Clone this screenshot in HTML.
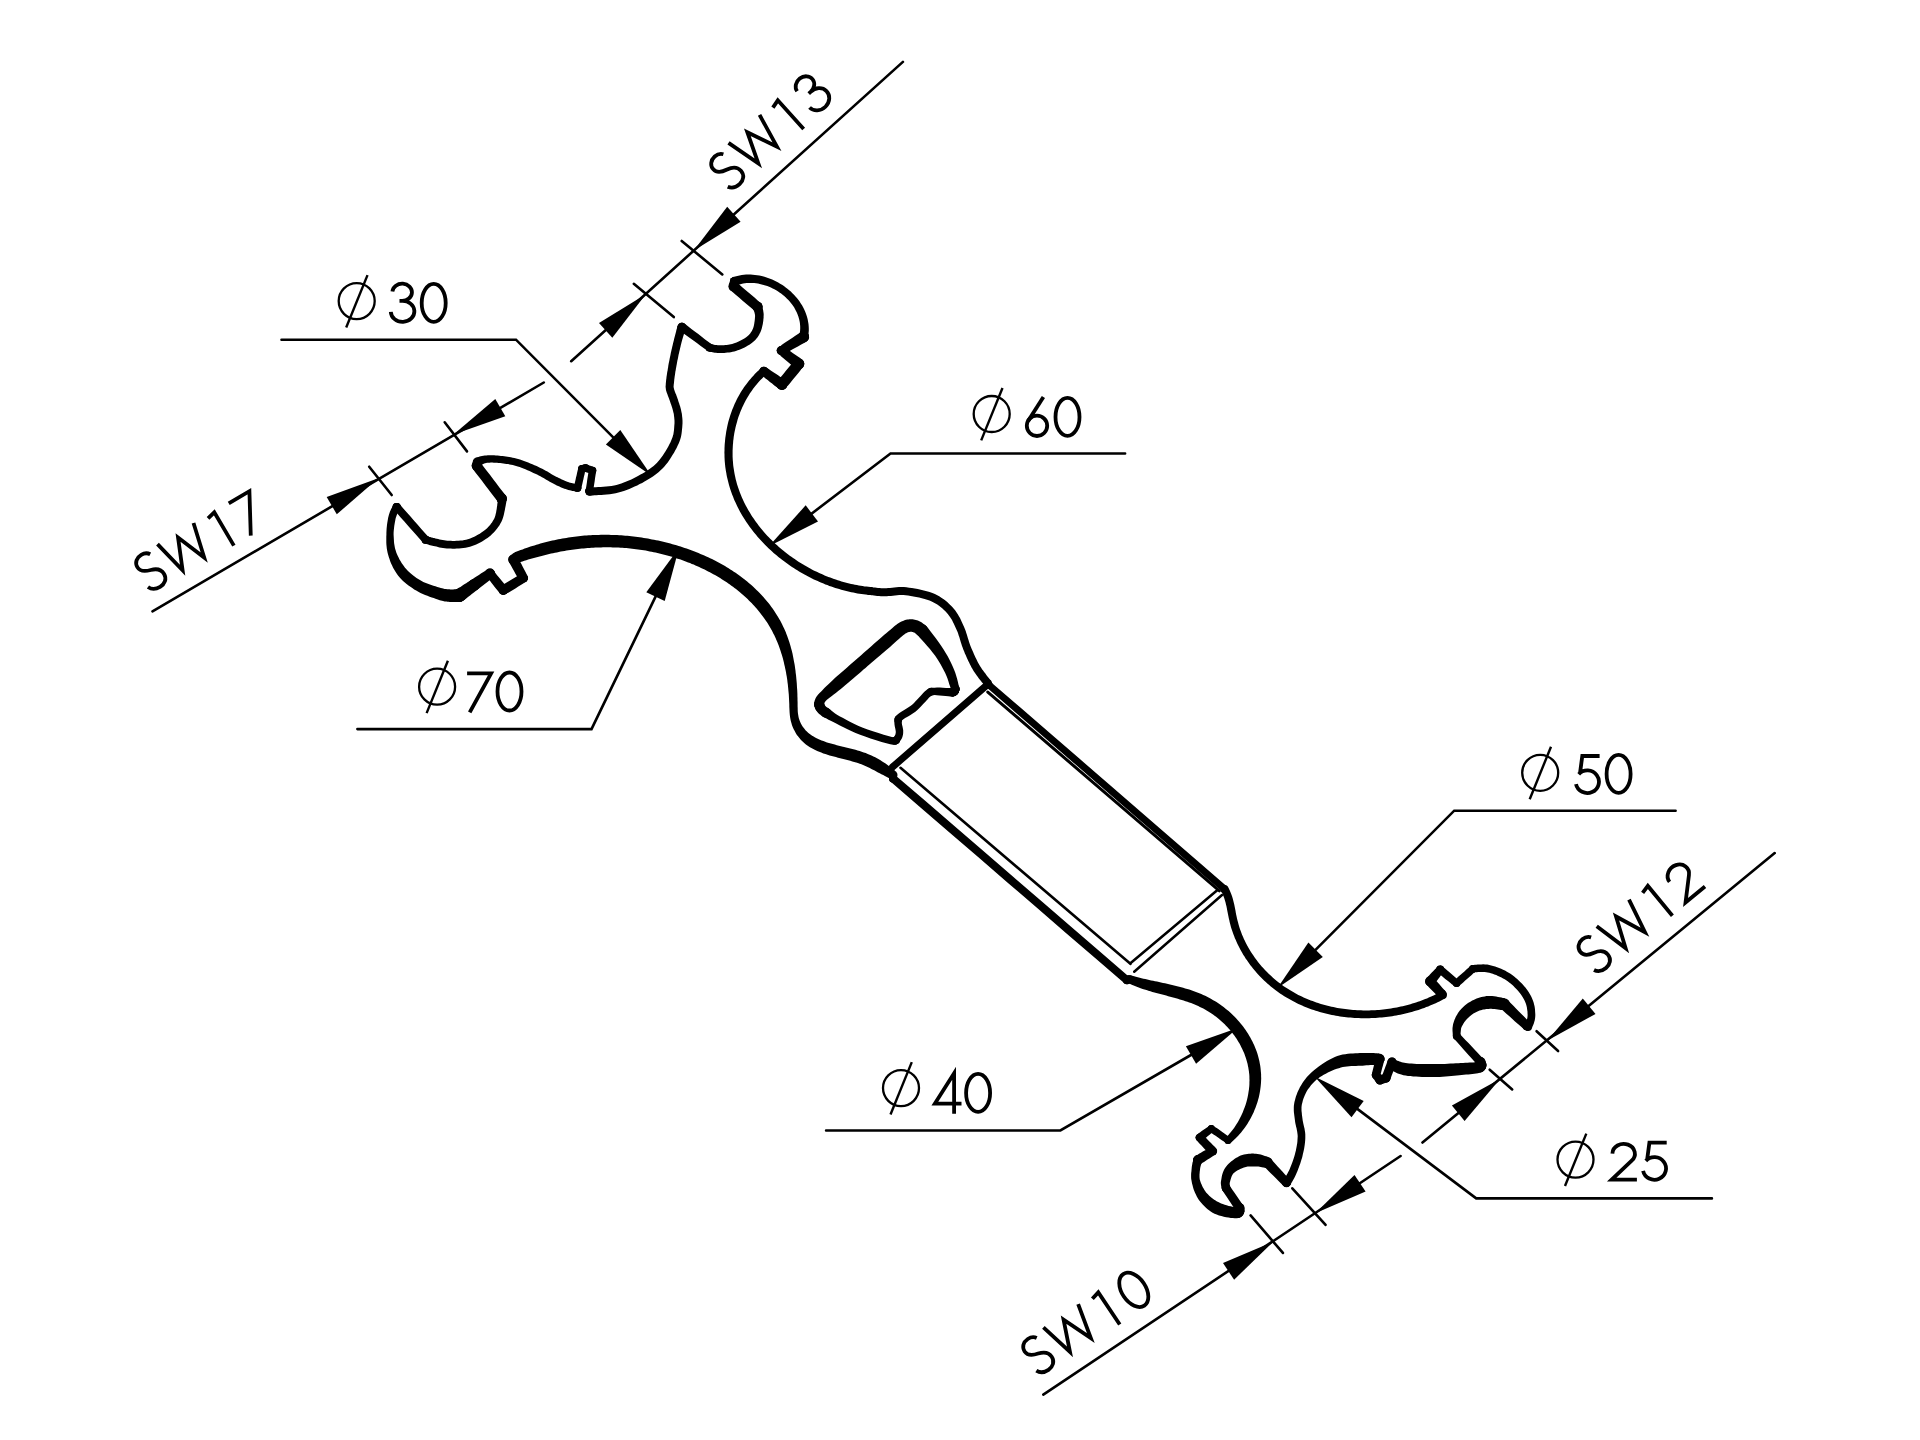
<!DOCTYPE html>
<html><head><meta charset="utf-8"><style>
html,body{margin:0;padding:0;background:#fff;width:1920px;height:1440px;overflow:hidden}
svg{display:block}
</style></head><body>
<svg width="1920" height="1440" viewBox="0 0 1920 1440" xmlns="http://www.w3.org/2000/svg">
<rect width="1920" height="1440" fill="#fff"/>
<g fill="#000" stroke="none">
<path d="M736.0 285.7 L737.8 285.0 L739.5 284.4 L741.3 284.0 L743.1 283.6 L744.9 283.3 L746.7 283.1 L748.6 283.0 L750.4 283.0 L752.3 283.0 L754.2 283.1 L756.1 283.3 L758.0 283.6 L759.8 283.9 L761.7 284.4 L763.6 284.9 L765.4 285.5 L767.3 286.1 L769.1 286.8 L770.9 287.6 L772.7 288.4 L774.4 289.3 L776.2 290.3 L777.8 291.3 L779.5 292.4 L781.1 293.6 L782.6 294.8 L784.2 296.0 L785.6 297.3 L787.0 298.7 L788.4 300.1 L789.7 301.5 L790.9 303.0 L792.1 304.5 L793.2 306.0 L794.2 307.6 L795.1 309.2 L796.0 310.9 L796.8 312.6 L797.5 314.3 L798.2 316.0 L798.7 317.7 L799.2 319.5 L799.6 321.3 L799.9 323.1 L800.1 324.9 L800.2 326.7 L800.2 328.5 L800.1 330.4 L799.9 332.2 L799.6 334.1 L799.2 336.1 L808.0 337.7 L808.4 335.5 L808.6 333.1 L808.8 330.8 L808.8 328.5 L808.7 326.2 L808.5 324.0 L808.1 321.8 L807.7 319.6 L807.2 317.4 L806.5 315.3 L805.8 313.2 L805.0 311.2 L804.1 309.2 L803.1 307.2 L802.0 305.3 L800.8 303.4 L799.6 301.6 L798.3 299.8 L796.9 298.1 L795.5 296.4 L794.0 294.8 L792.4 293.2 L790.8 291.6 L789.2 290.2 L787.4 288.7 L785.7 287.4 L783.9 286.1 L782.0 284.8 L780.1 283.7 L778.2 282.5 L776.2 281.5 L774.2 280.5 L772.2 279.6 L770.1 278.7 L768.0 278.0 L765.9 277.3 L763.7 276.6 L761.6 276.1 L759.4 275.6 L757.2 275.2 L755.0 274.9 L752.8 274.7 L750.6 274.6 L748.4 274.6 L746.1 274.6 L743.9 274.8 L741.7 275.1 L739.5 275.4 L737.3 275.9 L735.1 276.5 L733.0 277.1Z"/>
<circle cx="734.5" cy="281.4" r="4.50"/><circle cx="803.6" cy="336.9" r="4.50"/>
<circle cx="803.6" cy="336.9" r="5.50"/>
<circle cx="781.2" cy="350.6" r="4.50"/>
<circle cx="798.8" cy="363.8" r="5.50"/>
<circle cx="781.9" cy="384.4" r="5.50"/>
<circle cx="763.8" cy="371.2" r="4.50"/>
<path d="M800.7 332.2 L798.0 334.0 L795.3 335.8 L792.5 337.7 L789.8 339.5 L787.1 341.3 L784.4 343.1 L781.6 344.9 L776.8 349.8 L780.7 355.9 L782.8 357.7 L784.9 359.4 L787.0 361.2 L789.1 362.9 L791.2 364.7 L793.3 366.4 L793.3 363.9 L792.4 362.9 L790.3 365.4 L788.2 368.0 L786.1 370.6 L784.0 373.2 L781.9 375.8 L779.7 378.3 L780.7 379.0 L782.8 378.4 L780.4 376.9 L778.1 375.3 L775.8 373.8 L773.4 372.2 L771.1 370.7 L768.7 369.1 L766.4 367.6 L761.1 374.9 L763.3 376.6 L765.5 378.4 L767.7 380.1 L769.9 381.9 L772.1 383.6 L774.3 385.4 L776.5 387.1 L783.1 389.8 L788.3 385.3 L790.4 382.7 L792.5 380.1 L794.6 377.6 L796.7 375.0 L798.8 372.4 L800.9 369.8 L804.2 363.6 L799.8 357.8 L797.5 356.3 L795.3 354.7 L793.0 353.2 L790.7 351.6 L788.5 350.1 L786.2 348.5 L785.7 351.4 L786.5 352.8 L789.3 351.2 L792.2 349.6 L795.0 348.0 L797.9 346.4 L800.8 344.8 L803.6 343.2 L806.5 341.6Z"/>
<circle cx="803.6" cy="336.9" r="5.50"/><circle cx="763.8" cy="371.2" r="4.50"/><circle cx="781.2" cy="350.6" r="4.50"/><circle cx="798.8" cy="363.8" r="5.50"/><circle cx="781.9" cy="384.4" r="5.50"/>
<path d="M761.1 368.3 L759.5 369.7 L757.9 371.1 L756.3 372.6 L754.8 374.1 L753.4 375.7 L751.9 377.3 L750.5 378.9 L749.1 380.5 L747.8 382.2 L746.5 383.9 L745.3 385.6 L744.0 387.3 L742.9 389.0 L741.7 390.8 L740.6 392.6 L739.5 394.4 L738.5 396.3 L737.5 398.1 L736.5 400.0 L735.6 401.9 L734.7 403.8 L733.9 405.7 L733.1 407.7 L732.3 409.6 L731.6 411.6 L730.9 413.6 L730.2 415.6 L729.6 417.6 L729.0 419.6 L728.4 421.6 L727.9 423.6 L727.4 425.7 L727.0 427.7 L726.6 429.8 L726.2 431.8 L725.9 433.9 L725.6 435.9 L725.3 438.0 L725.1 440.1 L724.9 442.2 L724.7 444.2 L724.6 446.3 L724.5 448.4 L724.5 450.5 L724.4 452.5 L724.5 454.6 L724.5 456.7 L724.6 458.8 L724.7 460.8 L724.9 462.9 L725.1 464.9 L725.3 467.0 L725.6 469.0 L725.9 471.1 L726.3 473.1 L726.6 475.1 L727.0 477.1 L727.5 479.1 L728.0 481.1 L728.5 483.1 L729.0 485.1 L729.6 487.0 L730.2 489.0 L730.9 490.9 L731.5 492.8 L732.2 494.7 L733.0 496.6 L733.7 498.5 L734.5 500.4 L735.4 502.3 L736.2 504.1 L737.1 505.9 L738.0 507.8 L738.9 509.6 L739.9 511.4 L740.9 513.2 L741.9 514.9 L743.0 516.7 L744.1 518.4 L745.2 520.2 L746.3 521.9 L747.4 523.6 L748.6 525.3 L749.8 526.9 L751.0 528.6 L752.3 530.2 L753.6 531.9 L754.9 533.5 L756.2 535.1 L757.5 536.7 L758.9 538.2 L760.3 539.8 L761.7 541.3 L763.1 542.8 L764.5 544.3 L766.0 545.8 L767.5 547.2 L769.0 548.7 L770.5 550.1 L772.1 551.5 L773.6 552.9 L775.2 554.3 L776.8 555.6 L778.4 556.9 L780.1 558.3 L781.7 559.6 L783.4 560.8 L785.1 562.1 L786.8 563.3 L788.5 564.5 L790.2 565.7 L792.0 566.9 L793.7 568.1 L795.5 569.2 L797.3 570.3 L799.1 571.4 L800.9 572.5 L802.7 573.5 L804.5 574.6 L806.4 575.6 L808.2 576.6 L810.1 577.5 L812.0 578.5 L813.9 579.4 L815.8 580.3 L817.7 581.1 L819.6 582.0 L821.5 582.8 L823.5 583.6 L825.4 584.4 L827.4 585.1 L829.3 585.9 L831.3 586.6 L833.3 587.2 L835.3 587.9 L837.3 588.5 L839.2 589.1 L841.2 589.7 L843.3 590.3 L845.3 590.8 L847.3 591.3 L849.3 591.8 L851.3 592.2 L853.3 592.6 L855.4 593.0 L857.4 593.4 L859.4 593.7 L861.5 594.0 L863.5 594.3 L865.6 594.6 L867.6 594.8 L869.6 595.0 L870.4 587.0 L868.4 586.8 L866.5 586.6 L864.6 586.4 L862.6 586.1 L860.7 585.8 L858.8 585.5 L856.9 585.1 L854.9 584.7 L853.0 584.3 L851.1 583.9 L849.2 583.5 L847.2 583.0 L845.3 582.5 L843.4 582.0 L841.5 581.4 L839.6 580.8 L837.7 580.2 L835.8 579.6 L834.0 579.0 L832.1 578.3 L830.2 577.6 L828.4 576.9 L826.5 576.2 L824.6 575.4 L822.8 574.6 L821.0 573.8 L819.1 573.0 L817.3 572.1 L815.5 571.3 L813.7 570.4 L811.9 569.4 L810.2 568.5 L808.4 567.5 L806.7 566.6 L804.9 565.6 L803.2 564.5 L801.5 563.5 L799.8 562.4 L798.1 561.4 L796.4 560.3 L794.7 559.1 L793.1 558.0 L791.4 556.8 L789.8 555.7 L788.2 554.5 L786.6 553.3 L785.0 552.0 L783.5 550.8 L781.9 549.5 L780.4 548.2 L778.9 546.9 L777.4 545.6 L775.9 544.2 L774.5 542.9 L773.0 541.5 L771.6 540.1 L770.2 538.7 L768.8 537.3 L767.5 535.9 L766.1 534.4 L764.8 533.0 L763.5 531.5 L762.3 530.0 L761.0 528.5 L759.8 526.9 L758.6 525.4 L757.4 523.8 L756.2 522.3 L755.1 520.7 L754.0 519.1 L752.9 517.5 L751.8 515.9 L750.8 514.2 L749.8 512.6 L748.8 510.9 L747.8 509.3 L746.9 507.6 L746.0 505.9 L745.1 504.2 L744.2 502.5 L743.4 500.7 L742.6 499.0 L741.8 497.2 L741.1 495.5 L740.4 493.7 L739.7 491.9 L739.0 490.1 L738.4 488.3 L737.8 486.5 L737.2 484.7 L736.7 482.9 L736.2 481.0 L735.7 479.2 L735.3 477.3 L734.9 475.5 L734.5 473.6 L734.2 471.7 L733.9 469.8 L733.6 467.9 L733.3 466.0 L733.1 464.1 L733.0 462.2 L732.8 460.3 L732.7 458.4 L732.6 456.4 L732.6 454.5 L732.6 452.6 L732.6 450.6 L732.7 448.7 L732.8 446.7 L732.9 444.8 L733.1 442.9 L733.2 440.9 L733.5 439.0 L733.7 437.1 L734.0 435.2 L734.3 433.2 L734.7 431.3 L735.1 429.4 L735.5 427.5 L736.0 425.6 L736.5 423.7 L737.0 421.9 L737.5 420.0 L738.1 418.1 L738.7 416.3 L739.4 414.5 L740.1 412.6 L740.8 410.8 L741.6 409.0 L742.3 407.3 L743.2 405.5 L744.0 403.7 L744.9 402.0 L745.8 400.3 L746.8 398.6 L747.7 396.9 L748.8 395.2 L749.8 393.6 L750.9 392.0 L752.0 390.4 L753.1 388.8 L754.3 387.2 L755.5 385.7 L756.8 384.2 L758.0 382.7 L759.3 381.2 L760.7 379.8 L762.1 378.4 L763.5 377.0 L764.9 375.6 L766.4 374.2Z"/>
<circle cx="763.8" cy="371.2" r="4.00"/><circle cx="870.0" cy="591.0" r="4.00"/>
<path d="M869.6 595.0 L870.4 595.1 L871.4 595.2 L872.6 595.3 L874.0 595.5 L875.6 595.7 L877.2 595.9 L879.0 596.0 L880.9 596.2 L882.7 596.3 L884.7 596.3 L886.7 596.3 L888.8 596.1 L890.9 595.9 L892.9 595.7 L895.0 595.5 L897.1 595.3 L899.2 595.1 L901.4 595.1 L903.5 595.1 L905.7 595.3 L908.1 595.6 L910.7 596.0 L913.4 596.4 L916.2 596.9 L919.1 597.5 L921.9 598.2 L924.6 598.9 L927.1 599.7 L929.5 600.6 L931.7 601.5 L933.6 602.4 L935.5 603.4 L937.3 604.6 L939.0 605.8 L940.6 607.0 L942.2 608.3 L943.7 609.7 L945.1 611.1 L946.5 612.6 L947.8 614.0 L948.9 615.4 L950.0 616.9 L951.0 618.5 L952.0 620.1 L952.8 621.7 L953.7 623.5 L954.5 625.2 L955.3 627.0 L956.1 628.8 L956.9 630.5 L957.6 632.1 L958.2 633.7 L958.7 635.4 L959.3 637.1 L959.8 638.8 L960.3 640.5 L960.8 642.3 L961.4 644.1 L962.0 646.0 L962.7 647.8 L963.4 649.7 L964.2 651.5 L964.9 653.4 L965.8 655.3 L966.6 657.2 L967.4 659.1 L968.3 660.9 L969.1 662.6 L969.9 664.2 L970.7 665.7 L971.4 667.2 L972.2 668.5 L972.9 669.7 L973.6 670.9 L974.3 672.0 L975.0 673.0 L975.7 674.0 L976.4 674.9 L977.1 675.9 L977.7 676.8 L978.5 677.9 L979.3 679.0 L980.1 680.0 L981.0 681.1 L981.8 682.2 L982.6 683.1 L983.3 684.0 L983.9 684.8 L984.5 685.5 L984.9 686.0 L991.1 681.0 L990.7 680.5 L990.2 679.8 L989.5 679.0 L988.8 678.1 L988.1 677.2 L987.3 676.2 L986.5 675.2 L985.7 674.1 L985.0 673.1 L984.3 672.2 L983.6 671.2 L982.9 670.3 L982.2 669.4 L981.6 668.4 L981.0 667.5 L980.3 666.6 L979.7 665.6 L979.1 664.5 L978.4 663.3 L977.7 662.1 L977.0 660.6 L976.3 659.1 L975.5 657.5 L974.7 655.7 L973.9 654.0 L973.1 652.1 L972.3 650.3 L971.5 648.5 L970.8 646.7 L970.1 645.0 L969.5 643.3 L969.0 641.7 L968.5 640.0 L967.9 638.3 L967.4 636.5 L966.9 634.7 L966.3 632.9 L965.7 631.1 L965.0 629.2 L964.2 627.3 L963.4 625.5 L962.6 623.7 L961.8 621.9 L960.9 620.0 L960.0 618.1 L958.9 616.2 L957.8 614.3 L956.6 612.4 L955.3 610.5 L953.8 608.8 L952.3 607.1 L950.8 605.5 L949.2 603.9 L947.5 602.3 L945.7 600.8 L943.7 599.3 L941.7 597.9 L939.6 596.6 L937.3 595.3 L934.9 594.1 L932.4 593.1 L929.6 592.1 L926.8 591.2 L923.8 590.5 L920.8 589.7 L917.8 589.1 L914.8 588.5 L911.9 588.1 L909.2 587.7 L906.5 587.3 L903.9 587.1 L901.3 587.1 L898.9 587.1 L896.5 587.3 L894.2 587.5 L892.1 587.7 L890.0 588.0 L888.1 588.1 L886.4 588.3 L884.7 588.3 L883.0 588.3 L881.3 588.2 L879.7 588.1 L878.0 587.9 L876.5 587.7 L875.0 587.6 L873.6 587.4 L872.4 587.2 L871.3 587.1 L870.4 587.0Z"/>
<circle cx="870.0" cy="591.0" r="4.00"/><circle cx="988.0" cy="683.5" r="4.00"/>
<circle cx="989.0" cy="685.0" r="3.50"/>
<circle cx="1224.4" cy="888.9" r="3.50"/>
<path d="M986.7 687.6 L1016.1 713.1 L1045.6 738.6 L1075.0 764.1 L1104.4 789.6 L1133.8 815.1 L1163.3 840.6 L1192.7 866.1 L1222.1 891.5 L1226.7 886.3 L1197.3 860.8 L1167.8 835.3 L1138.4 809.8 L1109.0 784.3 L1079.6 758.8 L1050.1 733.3 L1020.7 707.8 L991.3 682.4Z"/>
<circle cx="989.0" cy="685.0" r="3.50"/><circle cx="1224.4" cy="888.9" r="3.50"/>
<path d="M1220.9 890.9 L1221.8 892.5 L1222.6 894.1 L1223.3 895.7 L1224.0 897.4 L1224.5 899.1 L1225.1 900.9 L1225.6 902.7 L1226.0 904.6 L1226.5 906.4 L1226.9 908.4 L1227.2 910.3 L1227.6 912.3 L1228.0 914.3 L1228.4 916.3 L1228.8 918.3 L1229.3 920.3 L1229.7 922.3 L1230.3 924.4 L1230.8 926.4 L1231.4 928.4 L1232.1 930.4 L1232.7 932.3 L1233.4 934.3 L1234.2 936.3 L1234.9 938.2 L1235.8 940.1 L1236.6 942.0 L1237.5 943.9 L1238.4 945.8 L1239.3 947.6 L1240.3 949.5 L1241.3 951.3 L1242.3 953.1 L1243.4 954.9 L1244.5 956.6 L1245.6 958.4 L1246.8 960.1 L1248.0 961.8 L1249.2 963.5 L1250.4 965.2 L1251.7 966.8 L1253.0 968.5 L1254.3 970.1 L1255.6 971.6 L1257.0 973.2 L1258.4 974.7 L1259.8 976.3 L1261.3 977.8 L1262.8 979.2 L1264.3 980.7 L1265.8 982.1 L1267.3 983.5 L1268.9 984.8 L1270.5 986.2 L1272.1 987.5 L1273.7 988.8 L1275.3 990.1 L1277.0 991.3 L1278.7 992.5 L1280.4 993.7 L1282.1 994.8 L1283.9 995.9 L1285.6 997.0 L1287.4 998.1 L1289.2 999.1 L1291.0 1000.1 L1292.8 1001.1 L1294.7 1002.1 L1296.5 1003.0 L1298.4 1003.9 L1300.3 1004.7 L1302.1 1005.6 L1304.0 1006.4 L1306.0 1007.2 L1307.9 1007.9 L1309.8 1008.7 L1311.8 1009.4 L1313.8 1010.0 L1315.7 1010.7 L1317.7 1011.3 L1319.7 1011.9 L1321.7 1012.5 L1323.7 1013.0 L1325.7 1013.5 L1327.8 1014.0 L1329.8 1014.5 L1331.8 1014.9 L1333.9 1015.3 L1335.9 1015.7 L1338.0 1016.0 L1340.0 1016.4 L1342.1 1016.7 L1344.2 1016.9 L1346.3 1017.2 L1348.3 1017.4 L1350.4 1017.6 L1352.5 1017.8 L1354.6 1017.9 L1356.7 1018.0 L1358.8 1018.1 L1360.9 1018.2 L1363.0 1018.2 L1365.1 1018.2 L1367.2 1018.2 L1369.3 1018.2 L1371.4 1018.1 L1373.5 1018.1 L1375.5 1017.9 L1377.6 1017.8 L1379.7 1017.6 L1381.8 1017.5 L1383.9 1017.2 L1386.0 1017.0 L1388.0 1016.8 L1390.1 1016.5 L1392.2 1016.2 L1394.2 1015.8 L1396.3 1015.5 L1398.4 1015.1 L1400.4 1014.7 L1402.4 1014.2 L1404.5 1013.8 L1406.5 1013.3 L1408.5 1012.8 L1410.5 1012.3 L1412.5 1011.7 L1414.5 1011.1 L1416.5 1010.5 L1418.5 1009.9 L1420.4 1009.2 L1422.4 1008.6 L1424.3 1007.9 L1426.2 1007.1 L1428.2 1006.4 L1430.1 1005.6 L1432.0 1004.8 L1433.8 1004.0 L1435.7 1003.2 L1437.6 1002.3 L1439.4 1001.4 L1441.2 1000.5 L1443.0 999.6 L1444.8 998.6 L1441.0 991.6 L1439.3 992.5 L1437.6 993.4 L1435.9 994.3 L1434.1 995.2 L1432.4 996.0 L1430.6 996.8 L1428.8 997.6 L1427.0 998.4 L1425.2 999.1 L1423.4 999.8 L1421.6 1000.5 L1419.7 1001.2 L1417.9 1001.8 L1416.0 1002.5 L1414.2 1003.1 L1412.3 1003.6 L1410.4 1004.2 L1408.5 1004.7 L1406.6 1005.2 L1404.6 1005.7 L1402.7 1006.2 L1400.8 1006.6 L1398.8 1007.0 L1396.9 1007.4 L1394.9 1007.8 L1393.0 1008.1 L1391.0 1008.5 L1389.0 1008.8 L1387.0 1009.0 L1385.1 1009.3 L1383.1 1009.5 L1381.1 1009.7 L1379.1 1009.9 L1377.1 1010.0 L1375.1 1010.2 L1373.1 1010.3 L1371.1 1010.3 L1369.1 1010.4 L1367.1 1010.4 L1365.1 1010.4 L1363.1 1010.4 L1361.1 1010.3 L1359.1 1010.3 L1357.1 1010.2 L1355.1 1010.1 L1353.1 1009.9 L1351.1 1009.8 L1349.1 1009.6 L1347.2 1009.3 L1345.2 1009.1 L1343.2 1008.8 L1341.2 1008.5 L1339.3 1008.2 L1337.3 1007.9 L1335.4 1007.5 L1333.4 1007.1 L1331.5 1006.7 L1329.6 1006.3 L1327.6 1005.8 L1325.7 1005.3 L1323.8 1004.8 L1321.9 1004.2 L1320.1 1003.7 L1318.2 1003.1 L1316.3 1002.5 L1314.5 1001.8 L1312.6 1001.1 L1310.8 1000.4 L1309.0 999.7 L1307.2 999.0 L1305.4 998.2 L1303.6 997.4 L1301.8 996.6 L1300.1 995.7 L1298.3 994.9 L1296.6 994.0 L1294.9 993.1 L1293.2 992.1 L1291.5 991.1 L1289.8 990.1 L1288.2 989.1 L1286.6 988.1 L1284.9 987.0 L1283.3 985.9 L1281.8 984.7 L1280.2 983.6 L1278.7 982.4 L1277.1 981.2 L1275.6 980.0 L1274.1 978.7 L1272.7 977.4 L1271.2 976.1 L1269.8 974.8 L1268.4 973.5 L1267.0 972.1 L1265.7 970.7 L1264.3 969.3 L1263.0 967.8 L1261.7 966.4 L1260.5 964.9 L1259.2 963.4 L1258.0 961.9 L1256.8 960.3 L1255.6 958.8 L1254.5 957.2 L1253.4 955.6 L1252.3 954.0 L1251.3 952.4 L1250.2 950.7 L1249.2 949.0 L1248.3 947.4 L1247.3 945.7 L1246.4 943.9 L1245.5 942.2 L1244.7 940.5 L1243.8 938.7 L1243.1 936.9 L1242.3 935.2 L1241.6 933.4 L1240.9 931.5 L1240.2 929.7 L1239.6 927.9 L1239.0 926.0 L1238.5 924.2 L1238.0 922.3 L1237.5 920.4 L1237.0 918.5 L1236.6 916.6 L1236.2 914.7 L1235.8 912.7 L1235.5 910.8 L1235.1 908.8 L1234.7 906.8 L1234.3 904.8 L1233.8 902.7 L1233.3 900.7 L1232.8 898.7 L1232.2 896.7 L1231.5 894.7 L1230.7 892.7 L1229.9 890.7 L1228.9 888.8 L1227.9 886.9Z"/>
<circle cx="1224.4" cy="888.9" r="4.00"/><circle cx="1442.9" cy="995.1" r="4.00"/>
<circle cx="1442.0" cy="994.2" r="4.50"/>
<circle cx="1430.2" cy="981.4" r="5.00"/>
<circle cx="1440.2" cy="969.6" r="4.00"/>
<circle cx="1456.6" cy="983.3" r="3.75"/>
<circle cx="1473.0" cy="968.7" r="3.75"/>
<path d="M1445.3 991.1 L1443.9 989.5 L1442.5 987.9 L1441.0 986.2 L1439.6 984.6 L1438.2 982.9 L1436.7 981.3 L1435.3 979.7 L1435.2 981.0 L1435.2 983.1 L1436.3 981.5 L1437.5 980.0 L1438.6 978.4 L1439.8 976.9 L1440.9 975.3 L1442.1 973.7 L1439.9 973.6 L1439.7 974.4 L1441.8 976.0 L1443.8 977.7 L1445.9 979.4 L1448.0 981.1 L1450.1 982.8 L1452.1 984.5 L1456.7 987.0 L1461.1 984.3 L1463.2 982.5 L1465.2 980.6 L1467.3 978.8 L1469.3 977.0 L1471.4 975.2 L1473.4 973.3 L1475.5 971.5 L1470.5 965.9 L1468.5 967.7 L1466.4 969.5 L1464.4 971.4 L1462.3 973.2 L1460.3 975.0 L1458.2 976.8 L1456.2 978.7 L1456.5 979.6 L1457.0 978.7 L1454.9 976.9 L1452.9 975.2 L1450.9 973.5 L1448.9 971.7 L1446.8 970.0 L1444.8 968.3 L1440.5 965.6 L1435.8 968.4 L1434.5 969.8 L1433.1 971.2 L1431.8 972.6 L1430.4 974.0 L1429.1 975.4 L1427.7 976.8 L1425.2 981.8 L1428.0 986.3 L1429.6 987.9 L1431.1 989.5 L1432.6 991.0 L1434.1 992.6 L1435.6 994.1 L1437.2 995.7 L1438.7 997.3Z"/>
<circle cx="1442.0" cy="994.2" r="4.50"/><circle cx="1473.0" cy="968.7" r="3.75"/><circle cx="1430.2" cy="981.4" r="5.00"/><circle cx="1440.2" cy="969.6" r="4.00"/><circle cx="1456.6" cy="983.3" r="3.75"/>
<path d="M1473.1 972.4 L1474.1 972.4 L1475.4 972.3 L1476.7 972.2 L1478.2 972.1 L1479.8 972.0 L1481.4 972.0 L1483.1 972.0 L1484.7 972.1 L1486.3 972.2 L1487.7 972.5 L1489.3 972.8 L1490.9 973.3 L1492.7 973.8 L1494.4 974.5 L1496.2 975.1 L1498.0 975.9 L1499.8 976.7 L1501.5 977.5 L1503.1 978.4 L1504.7 979.3 L1506.2 980.2 L1507.7 981.3 L1509.2 982.4 L1510.6 983.6 L1512.1 984.8 L1513.5 986.1 L1514.8 987.4 L1516.1 988.7 L1517.3 990.0 L1518.4 991.2 L1519.4 992.4 L1520.4 993.7 L1521.3 994.9 L1522.1 996.2 L1522.9 997.4 L1523.6 998.7 L1524.3 999.9 L1524.9 1001.2 L1525.4 1002.4 L1525.9 1003.7 L1526.3 1004.9 L1526.6 1006.2 L1526.9 1007.6 L1527.1 1009.0 L1527.3 1010.4 L1527.5 1011.7 L1527.5 1013.1 L1527.6 1014.4 L1527.6 1015.6 L1527.5 1016.7 L1527.4 1017.6 L1527.2 1018.5 L1526.9 1019.5 L1526.6 1020.5 L1526.2 1021.4 L1525.7 1022.4 L1525.3 1023.2 L1524.9 1024.1 L1524.5 1024.9 L1524.3 1025.6 L1531.7 1028.4 L1531.9 1028.0 L1532.2 1027.4 L1532.5 1026.5 L1533.0 1025.5 L1533.4 1024.4 L1533.9 1023.2 L1534.3 1021.8 L1534.7 1020.4 L1535.0 1018.8 L1535.2 1017.3 L1535.3 1015.8 L1535.3 1014.3 L1535.2 1012.8 L1535.1 1011.2 L1535.0 1009.5 L1534.8 1007.8 L1534.5 1006.1 L1534.1 1004.4 L1533.7 1002.8 L1533.1 1001.1 L1532.5 999.6 L1531.9 998.0 L1531.2 996.5 L1530.4 995.0 L1529.5 993.5 L1528.6 992.0 L1527.6 990.5 L1526.5 989.0 L1525.4 987.6 L1524.2 986.2 L1523.0 984.8 L1521.6 983.3 L1520.2 981.9 L1518.7 980.5 L1517.2 979.1 L1515.6 977.7 L1513.9 976.3 L1512.2 975.1 L1510.5 973.8 L1508.7 972.7 L1506.9 971.7 L1505.0 970.6 L1503.1 969.7 L1501.1 968.8 L1499.1 968.0 L1497.1 967.2 L1495.1 966.5 L1493.1 965.9 L1491.2 965.4 L1489.3 964.9 L1487.3 964.6 L1485.2 964.4 L1483.2 964.3 L1481.3 964.4 L1479.4 964.4 L1477.7 964.6 L1476.1 964.7 L1474.8 964.8 L1473.7 964.9 L1472.9 965.0Z"/>
<circle cx="1473.0" cy="968.7" r="3.75"/><circle cx="1528.0" cy="1027.0" r="4.00"/>
<circle cx="1527.0" cy="1026.0" r="4.50"/>
<circle cx="1504.0" cy="1004.2" r="5.50"/>
<path d="M1530.1 1022.7 L1527.3 1019.9 L1524.5 1017.1 L1521.7 1014.3 L1518.9 1011.5 L1516.2 1008.7 L1513.4 1005.8 L1510.6 1003.0 L1507.8 1000.2 L1500.2 1008.2 L1503.2 1010.8 L1506.1 1013.5 L1509.1 1016.1 L1512.1 1018.7 L1515.0 1021.4 L1518.0 1024.0 L1520.9 1026.6 L1523.9 1029.3Z"/>
<circle cx="1527.0" cy="1026.0" r="4.50"/><circle cx="1504.0" cy="1004.2" r="5.50"/>
<path d="M1504.8 998.3 L1504.0 998.1 L1502.9 997.9 L1501.5 997.6 L1499.8 997.2 L1498.0 996.9 L1496.1 996.6 L1494.2 996.3 L1492.2 996.1 L1490.1 995.9 L1488.2 995.9 L1486.4 996.1 L1484.7 996.4 L1483.0 996.7 L1481.4 997.1 L1479.8 997.5 L1478.2 998.0 L1476.6 998.6 L1475.1 999.2 L1473.6 999.9 L1472.2 1000.6 L1470.8 1001.4 L1469.4 1002.2 L1468.0 1003.1 L1466.7 1004.1 L1465.4 1005.1 L1464.2 1006.1 L1463.0 1007.2 L1461.9 1008.3 L1460.8 1009.4 L1459.8 1010.6 L1458.9 1011.8 L1458.0 1013.1 L1457.2 1014.4 L1456.4 1015.8 L1455.7 1017.1 L1455.1 1018.5 L1454.5 1019.8 L1454.1 1021.1 L1453.6 1022.4 L1453.2 1023.8 L1452.9 1025.2 L1452.7 1026.7 L1452.5 1028.1 L1452.5 1029.5 L1452.5 1030.8 L1452.6 1031.9 L1452.7 1033.0 L1452.7 1033.9 L1452.8 1034.5 L1452.9 1035.0 L1460.3 1035.4 L1460.5 1034.7 L1460.5 1033.9 L1460.6 1033.0 L1460.7 1032.0 L1460.8 1031.0 L1460.9 1030.0 L1461.0 1029.0 L1461.2 1028.1 L1461.5 1027.3 L1461.8 1026.6 L1462.2 1025.8 L1462.7 1024.9 L1463.2 1024.0 L1463.8 1023.0 L1464.4 1022.1 L1465.1 1021.2 L1465.8 1020.3 L1466.5 1019.4 L1467.2 1018.7 L1468.0 1017.9 L1468.8 1017.2 L1469.6 1016.4 L1470.5 1015.7 L1471.4 1014.9 L1472.4 1014.2 L1473.4 1013.6 L1474.4 1013.0 L1475.4 1012.4 L1476.4 1011.9 L1477.4 1011.4 L1478.5 1011.0 L1479.6 1010.6 L1480.7 1010.2 L1481.8 1009.9 L1483.0 1009.6 L1484.1 1009.4 L1485.3 1009.2 L1486.5 1009.0 L1487.7 1008.9 L1488.8 1008.9 L1490.0 1008.8 L1491.3 1008.8 L1492.8 1008.9 L1494.5 1009.1 L1496.2 1009.3 L1497.8 1009.5 L1499.4 1009.7 L1500.8 1009.9 L1502.1 1010.0 L1503.2 1010.1Z"/>
<circle cx="1504.0" cy="1004.2" r="6.00"/><circle cx="1456.6" cy="1035.2" r="3.75"/>
<circle cx="1456.6" cy="1036.0" r="3.75"/>
<circle cx="1480.5" cy="1062.0" r="4.25"/>
<path d="M1453.8 1038.5 L1456.8 1041.8 L1459.7 1045.1 L1462.7 1048.4 L1465.6 1051.7 L1468.5 1055.0 L1471.5 1058.3 L1474.4 1061.6 L1477.4 1064.9 L1483.6 1059.1 L1480.6 1055.9 L1477.6 1052.7 L1474.5 1049.5 L1471.5 1046.3 L1468.5 1043.1 L1465.4 1039.9 L1462.4 1036.7 L1459.4 1033.5Z"/>
<circle cx="1456.6" cy="1036.0" r="3.75"/><circle cx="1480.5" cy="1062.0" r="4.25"/>
<path d="M1475.5 1062.2 L1475.5 1063.1 L1475.7 1064.2 L1475.9 1064.8 L1475.9 1065.1 L1475.9 1065.1 L1475.8 1064.8 L1476.0 1063.9 L1476.5 1062.9 L1477.2 1062.2 L1477.4 1062.0 L1477.0 1062.0 L1476.0 1062.2 L1474.8 1062.3 L1473.2 1062.4 L1471.5 1062.5 L1469.6 1062.6 L1467.5 1062.7 L1465.3 1062.8 L1463.1 1062.9 L1460.8 1063.0 L1458.4 1063.2 L1455.8 1063.3 L1453.2 1063.5 L1450.5 1063.6 L1447.7 1063.8 L1444.8 1063.9 L1442.0 1064.0 L1439.2 1064.1 L1436.4 1064.1 L1433.7 1064.1 L1431.0 1064.1 L1428.2 1064.1 L1425.3 1064.1 L1422.4 1064.1 L1419.5 1064.0 L1416.7 1063.9 L1414.0 1063.8 L1411.5 1063.6 L1409.3 1063.4 L1407.4 1063.2 L1405.7 1063.0 L1404.3 1062.8 L1402.9 1062.5 L1401.7 1062.2 L1400.5 1061.8 L1399.5 1061.4 L1398.5 1061.1 L1397.5 1060.7 L1396.5 1060.4 L1395.6 1060.1 L1391.8 1070.5 L1392.3 1070.7 L1392.9 1071.1 L1393.8 1071.6 L1394.9 1072.1 L1396.2 1072.7 L1397.8 1073.4 L1399.5 1074.0 L1401.3 1074.6 L1403.4 1075.2 L1405.6 1075.6 L1408.0 1075.9 L1410.5 1076.1 L1413.2 1076.4 L1416.0 1076.6 L1419.0 1076.7 L1422.0 1076.9 L1425.0 1077.0 L1428.0 1077.0 L1431.0 1077.1 L1433.9 1077.1 L1436.7 1077.0 L1439.7 1076.9 L1442.6 1076.7 L1445.6 1076.5 L1448.5 1076.2 L1451.3 1076.0 L1454.1 1075.7 L1456.8 1075.5 L1459.3 1075.2 L1461.6 1075.0 L1463.9 1074.8 L1466.1 1074.6 L1468.3 1074.4 L1470.4 1074.2 L1472.4 1074.0 L1474.4 1073.8 L1476.2 1073.5 L1478.0 1073.2 L1479.6 1072.8 L1481.4 1072.2 L1483.3 1071.2 L1485.0 1069.5 L1486.1 1067.4 L1486.4 1065.3 L1486.3 1063.7 L1486.0 1062.5 L1485.7 1061.7 L1485.5 1061.3 L1485.5 1061.5 L1485.5 1061.8Z"/>
<circle cx="1480.5" cy="1062.0" r="5.00"/><circle cx="1393.7" cy="1065.3" r="5.50"/><circle cx="1480.5" cy="1062.3" r="5.05"/><circle cx="1481.1" cy="1064.4" r="5.25"/><circle cx="1481.1" cy="1065.0" r="5.30"/><circle cx="1481.0" cy="1065.6" r="5.35"/><circle cx="1480.7" cy="1066.2" r="5.40"/><circle cx="1480.2" cy="1066.7" r="5.45"/><circle cx="1479.4" cy="1067.1" r="5.50"/>
<circle cx="1392.0" cy="1062.0" r="4.50"/>
<circle cx="1386.0" cy="1078.0" r="4.50"/>
<circle cx="1380.0" cy="1080.0" r="4.50"/>
<circle cx="1376.0" cy="1075.0" r="4.25"/>
<circle cx="1380.0" cy="1059.0" r="4.50"/>
<path d="M1387.8 1060.4 L1387.0 1062.4 L1386.3 1064.4 L1385.5 1066.4 L1384.8 1068.4 L1384.0 1070.4 L1383.3 1072.4 L1382.5 1074.4 L1382.3 1075.5 L1383.8 1074.0 L1383.1 1074.2 L1382.3 1074.5 L1381.6 1074.7 L1380.8 1075.0 L1380.1 1075.2 L1379.3 1075.5 L1381.3 1075.7 L1383.0 1076.6 L1382.5 1076.0 L1381.9 1075.4 L1381.4 1074.8 L1380.9 1074.2 L1380.4 1073.6 L1379.8 1073.0 L1380.2 1075.0 L1380.7 1074.0 L1381.2 1072.0 L1381.7 1070.1 L1382.2 1068.1 L1382.8 1066.1 L1383.3 1064.1 L1383.8 1062.1 L1384.4 1060.1 L1375.6 1057.9 L1375.2 1059.9 L1374.7 1061.9 L1374.2 1063.9 L1373.8 1065.9 L1373.3 1067.9 L1372.8 1070.0 L1372.3 1072.0 L1371.8 1075.0 L1373.2 1078.3 L1373.6 1078.9 L1374.1 1079.6 L1374.6 1080.2 L1375.1 1080.9 L1375.5 1081.5 L1376.0 1082.2 L1378.7 1084.3 L1382.2 1084.0 L1382.9 1083.8 L1383.7 1083.5 L1384.4 1083.3 L1385.2 1083.0 L1385.9 1082.8 L1386.7 1082.5 L1389.7 1080.5 L1391.0 1077.6 L1391.7 1075.6 L1392.5 1073.6 L1393.2 1071.6 L1394.0 1069.6 L1394.7 1067.6 L1395.5 1065.6 L1396.2 1063.6Z"/>
<circle cx="1392.0" cy="1062.0" r="4.50"/><circle cx="1380.0" cy="1059.0" r="4.50"/><circle cx="1386.0" cy="1078.0" r="4.50"/><circle cx="1380.0" cy="1080.0" r="4.50"/><circle cx="1376.0" cy="1075.0" r="4.25"/>
<path d="M1379.0 1053.5 L1378.0 1053.4 L1376.8 1053.3 L1375.4 1053.2 L1373.8 1053.1 L1372.0 1053.0 L1370.1 1053.0 L1368.1 1052.9 L1366.0 1052.9 L1363.9 1052.9 L1361.8 1052.9 L1359.8 1053.1 L1357.7 1053.2 L1355.4 1053.3 L1353.0 1053.4 L1350.5 1053.6 L1347.9 1053.8 L1345.3 1054.2 L1342.6 1054.6 L1339.9 1055.2 L1337.3 1056.0 L1334.8 1057.0 L1332.3 1058.2 L1329.8 1059.4 L1327.4 1060.8 L1325.0 1062.2 L1322.7 1063.7 L1320.5 1065.2 L1318.4 1066.7 L1316.5 1068.3 L1314.6 1069.8 L1312.8 1071.2 L1311.1 1072.7 L1309.6 1074.2 L1308.1 1075.7 L1306.7 1077.3 L1305.4 1078.9 L1304.2 1080.5 L1303.1 1082.1 L1302.0 1083.7 L1301.0 1085.4 L1300.0 1087.1 L1299.1 1088.9 L1298.2 1090.7 L1297.4 1092.5 L1296.7 1094.4 L1296.0 1096.2 L1295.5 1098.1 L1295.0 1099.9 L1294.5 1101.7 L1294.2 1103.6 L1293.9 1105.4 L1293.8 1107.2 L1293.8 1108.9 L1293.8 1110.6 L1293.9 1112.2 L1294.1 1113.8 L1294.3 1115.4 L1294.5 1117.0 L1294.7 1118.5 L1294.9 1120.1 L1295.1 1121.8 L1295.4 1123.6 L1295.8 1125.3 L1296.2 1126.9 L1296.6 1128.6 L1296.9 1130.2 L1297.2 1131.7 L1297.4 1133.2 L1297.6 1134.8 L1297.7 1136.3 L1297.6 1137.9 L1297.5 1139.6 L1297.4 1141.4 L1297.2 1143.2 L1296.9 1145.0 L1296.6 1146.8 L1296.2 1148.7 L1295.9 1150.5 L1295.4 1152.3 L1295.0 1154.1 L1294.5 1155.8 L1294.0 1157.6 L1293.4 1159.3 L1292.8 1161.1 L1292.1 1162.9 L1291.5 1164.6 L1290.8 1166.3 L1290.1 1168.0 L1289.5 1169.5 L1288.8 1170.9 L1288.2 1172.1 L1287.6 1173.3 L1286.9 1174.5 L1286.3 1175.6 L1285.6 1176.7 L1284.9 1177.7 L1284.3 1178.6 L1283.8 1179.4 L1283.3 1180.2 L1282.9 1180.8 L1290.1 1185.2 L1290.5 1184.6 L1290.9 1183.9 L1291.4 1183.1 L1292.0 1182.1 L1292.6 1181.0 L1293.3 1179.8 L1294.0 1178.5 L1294.8 1177.1 L1295.5 1175.6 L1296.2 1174.1 L1296.8 1172.6 L1297.5 1171.0 L1298.1 1169.3 L1298.8 1167.5 L1299.5 1165.6 L1300.2 1163.7 L1300.8 1161.8 L1301.4 1159.8 L1302.0 1157.9 L1302.5 1155.9 L1302.9 1154.0 L1303.4 1152.1 L1303.8 1150.2 L1304.2 1148.2 L1304.5 1146.2 L1304.8 1144.2 L1305.0 1142.2 L1305.2 1140.2 L1305.3 1138.2 L1305.3 1136.2 L1305.3 1134.2 L1305.1 1132.3 L1304.8 1130.4 L1304.5 1128.6 L1304.1 1126.9 L1303.7 1125.2 L1303.3 1123.6 L1303.0 1122.1 L1302.7 1120.6 L1302.5 1119.1 L1302.3 1117.5 L1302.1 1116.0 L1301.9 1114.4 L1301.8 1113.0 L1301.6 1111.6 L1301.5 1110.2 L1301.5 1108.9 L1301.5 1107.5 L1301.6 1106.2 L1301.8 1104.8 L1302.1 1103.4 L1302.5 1101.9 L1302.9 1100.3 L1303.4 1098.7 L1304.0 1097.2 L1304.7 1095.6 L1305.4 1094.0 L1306.1 1092.5 L1306.9 1091.0 L1307.8 1089.6 L1308.8 1088.2 L1309.8 1086.9 L1310.8 1085.5 L1311.9 1084.2 L1313.1 1083.0 L1314.3 1081.7 L1315.6 1080.5 L1316.9 1079.3 L1318.4 1078.2 L1320.0 1077.0 L1321.8 1075.9 L1323.7 1074.8 L1325.8 1073.7 L1327.9 1072.6 L1330.1 1071.5 L1332.3 1070.5 L1334.6 1069.6 L1336.8 1068.8 L1338.9 1068.2 L1340.9 1067.6 L1342.8 1067.1 L1344.8 1066.7 L1347.0 1066.4 L1349.1 1066.2 L1351.4 1066.1 L1353.7 1066.0 L1356.0 1065.9 L1358.2 1065.8 L1360.5 1065.8 L1362.6 1065.7 L1364.5 1065.5 L1366.4 1065.3 L1368.4 1065.2 L1370.3 1065.0 L1372.1 1064.9 L1373.8 1064.9 L1375.4 1064.8 L1376.8 1064.7 L1378.0 1064.6 L1379.0 1064.5Z"/>
<circle cx="1379.0" cy="1059.0" r="5.50"/><circle cx="1286.5" cy="1183.0" r="4.25"/>
<circle cx="1286.5" cy="1182.6" r="4.50"/>
<circle cx="1267.2" cy="1162.5" r="5.00"/>
<path d="M1289.7 1179.5 L1287.4 1176.9 L1285.0 1174.4 L1282.6 1171.8 L1280.3 1169.3 L1277.9 1166.7 L1275.5 1164.1 L1273.2 1161.6 L1270.8 1159.0 L1263.6 1166.0 L1266.1 1168.4 L1268.5 1170.9 L1271.0 1173.4 L1273.4 1175.8 L1275.9 1178.3 L1278.3 1180.8 L1280.8 1183.2 L1283.3 1185.7Z"/>
<circle cx="1286.5" cy="1182.6" r="4.50"/><circle cx="1267.2" cy="1162.5" r="5.00"/>
<path d="M1268.4 1157.1 L1267.9 1156.9 L1267.1 1156.6 L1266.1 1156.3 L1264.9 1155.9 L1263.6 1155.4 L1262.2 1155.0 L1260.7 1154.6 L1259.2 1154.2 L1257.5 1153.9 L1256.0 1153.7 L1254.6 1153.7 L1253.2 1153.6 L1251.8 1153.6 L1250.4 1153.7 L1248.8 1153.8 L1247.3 1153.9 L1245.6 1154.2 L1244.0 1154.5 L1242.3 1155.0 L1240.6 1155.5 L1239.1 1156.3 L1237.5 1157.2 L1235.9 1158.1 L1234.4 1159.1 L1232.9 1160.2 L1231.4 1161.3 L1230.0 1162.5 L1228.6 1163.7 L1227.4 1165.0 L1226.2 1166.4 L1225.1 1167.9 L1224.2 1169.5 L1223.5 1171.1 L1222.9 1172.6 L1222.4 1174.1 L1222.0 1175.6 L1221.7 1177.0 L1221.5 1178.2 L1221.3 1179.4 L1221.1 1180.5 L1220.9 1181.7 L1220.8 1182.9 L1220.9 1184.1 L1221.0 1185.2 L1221.2 1186.1 L1221.3 1186.9 L1221.5 1187.6 L1221.7 1188.1 L1221.7 1188.4 L1221.8 1188.6 L1230.2 1187.4 L1230.2 1186.9 L1230.1 1186.2 L1229.9 1185.7 L1229.9 1185.2 L1229.8 1184.7 L1229.7 1184.2 L1229.7 1183.7 L1229.7 1183.2 L1229.8 1182.7 L1229.9 1182.1 L1230.2 1181.3 L1230.4 1180.3 L1230.7 1179.2 L1231.1 1178.1 L1231.4 1177.1 L1231.8 1176.1 L1232.3 1175.1 L1232.8 1174.3 L1233.3 1173.6 L1233.8 1173.0 L1234.5 1172.4 L1235.4 1171.7 L1236.5 1171.0 L1237.7 1170.3 L1238.9 1169.7 L1240.2 1169.0 L1241.5 1168.5 L1242.7 1168.0 L1243.9 1167.6 L1245.0 1167.3 L1245.9 1167.0 L1246.8 1166.8 L1247.7 1166.6 L1248.7 1166.5 L1249.7 1166.4 L1250.8 1166.4 L1251.9 1166.4 L1253.0 1166.4 L1254.1 1166.4 L1255.2 1166.5 L1256.2 1166.5 L1257.2 1166.5 L1258.4 1166.6 L1259.6 1166.8 L1260.8 1167.0 L1262.0 1167.2 L1263.1 1167.4 L1264.2 1167.6 L1265.2 1167.8 L1266.0 1167.9Z"/>
<circle cx="1267.2" cy="1162.5" r="5.50"/><circle cx="1226.0" cy="1188.0" r="4.25"/>
<circle cx="1226.0" cy="1188.0" r="4.25"/>
<circle cx="1239.5" cy="1208.0" r="4.50"/>
<path d="M1222.5 1190.4 L1224.1 1192.9 L1225.8 1195.4 L1227.5 1197.9 L1229.1 1200.4 L1230.8 1203.0 L1232.4 1205.5 L1234.1 1208.0 L1235.8 1210.5 L1243.2 1205.5 L1241.5 1203.0 L1239.8 1200.5 L1238.1 1198.0 L1236.4 1195.6 L1234.7 1193.1 L1232.9 1190.6 L1231.2 1188.1 L1229.5 1185.6Z"/>
<circle cx="1226.0" cy="1188.0" r="4.25"/><circle cx="1239.5" cy="1208.0" r="4.50"/>
<path d="M1234.8 1206.4 L1234.4 1207.3 L1234.3 1208.4 L1234.2 1209.0 L1234.1 1209.4 L1234.0 1209.4 L1234.1 1209.1 L1234.5 1208.4 L1235.2 1207.7 L1236.0 1207.3 L1236.2 1207.3 L1235.5 1207.2 L1234.1 1207.0 L1232.5 1206.7 L1230.6 1206.3 L1228.7 1205.9 L1226.6 1205.3 L1224.7 1204.7 L1222.8 1204.1 L1221.1 1203.4 L1219.7 1202.7 L1218.3 1202.1 L1217.0 1201.4 L1215.6 1200.6 L1214.2 1199.8 L1212.9 1198.8 L1211.6 1197.8 L1210.4 1196.8 L1209.2 1195.7 L1208.1 1194.6 L1207.1 1193.5 L1206.1 1192.4 L1205.3 1191.2 L1204.4 1190.0 L1203.6 1188.6 L1202.8 1187.2 L1202.1 1185.8 L1201.5 1184.3 L1200.9 1182.9 L1200.4 1181.6 L1200.0 1180.3 L1199.7 1179.2 L1199.6 1178.1 L1199.5 1176.9 L1199.5 1175.8 L1199.5 1174.6 L1199.6 1173.4 L1199.7 1172.3 L1199.8 1171.1 L1200.0 1169.9 L1200.1 1168.8 L1200.2 1167.9 L1200.4 1167.1 L1200.6 1166.2 L1200.8 1165.4 L1201.1 1164.6 L1201.3 1163.8 L1201.5 1163.1 L1201.8 1162.4 L1202.0 1161.8 L1202.2 1161.2 L1193.4 1159.0 L1193.4 1159.4 L1193.2 1159.9 L1193.1 1160.6 L1192.9 1161.4 L1192.6 1162.3 L1192.4 1163.3 L1192.2 1164.4 L1192.0 1165.6 L1191.8 1166.8 L1191.7 1168.0 L1191.6 1169.1 L1191.5 1170.2 L1191.4 1171.4 L1191.2 1172.8 L1191.1 1174.2 L1191.1 1175.7 L1191.1 1177.3 L1191.2 1178.9 L1191.5 1180.6 L1191.8 1182.3 L1192.2 1183.9 L1192.6 1185.6 L1193.1 1187.4 L1193.6 1189.2 L1194.3 1191.0 L1195.0 1192.8 L1195.9 1194.6 L1196.8 1196.4 L1197.8 1198.2 L1198.9 1199.9 L1200.1 1201.5 L1201.4 1203.0 L1202.7 1204.5 L1204.2 1206.0 L1205.7 1207.5 L1207.3 1208.9 L1209.0 1210.2 L1210.7 1211.5 L1212.6 1212.7 L1214.5 1213.8 L1216.7 1214.6 L1219.0 1215.4 L1221.4 1216.1 L1223.8 1216.7 L1226.2 1217.2 L1228.5 1217.6 L1230.8 1217.9 L1232.8 1218.1 L1234.7 1218.3 L1236.6 1218.2 L1238.7 1217.9 L1241.0 1216.9 L1242.7 1215.3 L1243.8 1213.5 L1244.3 1211.9 L1244.4 1210.6 L1244.4 1209.7 L1244.4 1209.2 L1244.3 1209.3 L1244.2 1209.6Z"/>
<circle cx="1239.5" cy="1208.0" r="5.00"/><circle cx="1197.8" cy="1160.1" r="4.50"/><circle cx="1239.4" cy="1208.3" r="5.05"/><circle cx="1239.2" cy="1210.7" r="5.25"/><circle cx="1239.0" cy="1211.3" r="5.30"/><circle cx="1238.6" cy="1211.9" r="5.35"/><circle cx="1238.1" cy="1212.3" r="5.40"/><circle cx="1237.4" cy="1212.6" r="5.45"/>
<circle cx="1197.8" cy="1160.1" r="4.80"/>
<circle cx="1212.6" cy="1151.1" r="4.50"/>
<circle cx="1199.8" cy="1137.6" r="4.20"/>
<circle cx="1211.3" cy="1128.6" r="3.50"/>
<circle cx="1228.0" cy="1140.2" r="3.50"/>
<path d="M1200.3 1164.2 L1202.1 1163.0 L1204.0 1161.9 L1205.8 1160.7 L1207.6 1159.6 L1209.4 1158.4 L1211.3 1157.3 L1213.1 1156.1 L1217.1 1151.5 L1214.2 1146.3 L1212.6 1144.7 L1211.0 1143.0 L1209.4 1141.4 L1207.7 1139.7 L1206.1 1138.0 L1204.5 1136.4 L1204.0 1137.4 L1203.8 1139.7 L1205.2 1138.5 L1206.5 1137.3 L1207.9 1136.1 L1209.3 1134.9 L1210.7 1133.7 L1212.1 1132.6 L1211.0 1132.1 L1211.4 1132.9 L1213.5 1134.4 L1215.6 1135.8 L1217.7 1137.3 L1219.7 1138.7 L1221.8 1140.2 L1223.9 1141.6 L1226.0 1143.1 L1230.0 1137.3 L1227.9 1135.9 L1225.8 1134.4 L1223.7 1133.0 L1221.6 1131.5 L1219.6 1130.1 L1217.5 1128.6 L1215.4 1127.2 L1211.6 1125.1 L1207.7 1126.9 L1206.2 1128.0 L1204.7 1129.0 L1203.2 1130.1 L1201.7 1131.1 L1200.2 1132.2 L1198.7 1133.2 L1195.6 1137.8 L1198.3 1142.2 L1199.9 1143.9 L1201.5 1145.6 L1203.0 1147.3 L1204.6 1149.1 L1206.2 1150.8 L1207.8 1152.5 L1208.1 1150.7 L1208.4 1148.3 L1206.5 1149.4 L1204.7 1150.5 L1202.8 1151.6 L1200.9 1152.7 L1199.0 1153.8 L1197.2 1154.9 L1195.3 1156.0Z"/>
<circle cx="1197.8" cy="1160.1" r="4.80"/><circle cx="1228.0" cy="1140.2" r="3.50"/><circle cx="1212.6" cy="1151.1" r="4.50"/><circle cx="1199.8" cy="1137.6" r="4.20"/><circle cx="1211.3" cy="1128.6" r="3.50"/>
<path d="M1230.4 1143.1 L1232.0 1141.7 L1233.6 1140.3 L1235.2 1138.8 L1236.7 1137.3 L1238.2 1135.7 L1239.7 1134.1 L1241.1 1132.5 L1242.4 1130.8 L1243.8 1129.1 L1245.1 1127.3 L1246.3 1125.5 L1247.5 1123.7 L1248.6 1121.8 L1249.7 1119.9 L1250.8 1118.0 L1251.8 1116.1 L1252.8 1114.1 L1253.7 1112.2 L1254.5 1110.1 L1255.4 1108.1 L1256.1 1106.1 L1256.8 1104.0 L1257.5 1101.9 L1258.1 1099.8 L1258.7 1097.7 L1259.2 1095.6 L1259.6 1093.5 L1260.0 1091.3 L1260.3 1089.2 L1260.6 1087.0 L1260.8 1084.9 L1261.0 1082.7 L1261.1 1080.6 L1261.2 1078.4 L1261.1 1076.2 L1261.1 1074.1 L1260.9 1071.9 L1260.7 1069.8 L1260.5 1067.7 L1260.2 1065.5 L1259.8 1063.4 L1259.4 1061.3 L1258.9 1059.2 L1258.4 1057.2 L1257.8 1055.1 L1257.2 1053.1 L1256.5 1051.1 L1255.7 1049.1 L1254.9 1047.1 L1254.1 1045.1 L1253.2 1043.2 L1252.3 1041.3 L1251.3 1039.4 L1250.3 1037.5 L1249.2 1035.7 L1248.1 1033.8 L1246.9 1032.0 L1245.8 1030.3 L1244.5 1028.5 L1243.3 1026.8 L1241.9 1025.1 L1240.6 1023.4 L1239.2 1021.8 L1237.8 1020.2 L1236.3 1018.6 L1234.9 1017.0 L1233.3 1015.5 L1231.8 1014.0 L1230.2 1012.6 L1228.6 1011.1 L1226.9 1009.7 L1225.3 1008.4 L1223.6 1007.1 L1221.8 1005.8 L1220.1 1004.5 L1218.3 1003.3 L1216.5 1002.1 L1214.7 1001.0 L1212.8 999.9 L1210.9 998.8 L1209.0 997.8 L1207.1 996.8 L1205.2 995.8 L1203.2 994.9 L1201.3 994.1 L1199.3 993.3 L1197.3 992.5 L1195.3 991.7 L1193.3 991.0 L1191.3 990.3 L1189.3 989.6 L1187.3 989.0 L1185.2 988.4 L1183.2 987.8 L1181.2 987.2 L1179.2 986.7 L1177.1 986.2 L1175.1 985.7 L1173.1 985.2 L1171.0 984.7 L1169.0 984.2 L1167.0 983.8 L1165.0 983.3 L1163.0 982.9 L1161.0 982.5 L1159.0 982.1 L1157.0 981.6 L1155.0 981.2 L1153.1 980.8 L1151.1 980.4 L1149.2 980.0 L1147.3 979.5 L1145.3 979.1 L1143.4 978.7 L1141.5 978.2 L1139.7 977.8 L1137.8 977.3 L1135.9 976.8 L1134.1 976.3 L1132.3 975.8 L1130.4 975.3 L1127.6 982.7 L1129.3 983.6 L1131.2 984.4 L1133.0 985.3 L1134.9 986.0 L1136.8 986.8 L1138.7 987.5 L1140.6 988.2 L1142.6 988.9 L1144.5 989.5 L1146.5 990.1 L1148.4 990.7 L1150.4 991.3 L1152.4 991.9 L1154.4 992.4 L1156.3 993.0 L1158.3 993.5 L1160.3 994.1 L1162.3 994.6 L1164.3 995.1 L1166.2 995.6 L1168.2 996.2 L1170.2 996.7 L1172.1 997.2 L1174.1 997.7 L1176.0 998.3 L1177.9 998.8 L1179.8 999.4 L1181.8 1000.0 L1183.6 1000.6 L1185.5 1001.2 L1187.4 1001.8 L1189.2 1002.5 L1191.1 1003.1 L1192.9 1003.8 L1194.7 1004.5 L1196.4 1005.3 L1198.2 1006.1 L1199.9 1006.9 L1201.6 1007.7 L1203.3 1008.6 L1205.0 1009.5 L1206.6 1010.4 L1208.3 1011.4 L1209.9 1012.4 L1211.5 1013.5 L1213.0 1014.6 L1214.6 1015.7 L1216.1 1016.8 L1217.6 1018.0 L1219.1 1019.2 L1220.5 1020.4 L1221.9 1021.7 L1223.3 1023.0 L1224.7 1024.3 L1226.0 1025.7 L1227.3 1027.0 L1228.6 1028.4 L1229.8 1029.8 L1231.0 1031.3 L1232.2 1032.8 L1233.3 1034.2 L1234.5 1035.8 L1235.5 1037.3 L1236.6 1038.8 L1237.6 1040.4 L1238.5 1042.0 L1239.5 1043.6 L1240.4 1045.2 L1241.2 1046.9 L1242.0 1048.5 L1242.8 1050.2 L1243.6 1051.9 L1244.3 1053.6 L1244.9 1055.3 L1245.5 1057.0 L1246.1 1058.7 L1246.6 1060.5 L1247.1 1062.2 L1247.6 1064.0 L1247.9 1065.8 L1248.3 1067.6 L1248.6 1069.4 L1248.9 1071.2 L1249.1 1073.0 L1249.3 1074.8 L1249.4 1076.6 L1249.4 1078.5 L1249.5 1080.3 L1249.4 1082.2 L1249.4 1084.1 L1249.3 1085.9 L1249.1 1087.8 L1248.9 1089.7 L1248.6 1091.6 L1248.3 1093.5 L1248.0 1095.3 L1247.6 1097.2 L1247.2 1099.1 L1246.7 1100.9 L1246.2 1102.8 L1245.6 1104.7 L1245.0 1106.5 L1244.3 1108.3 L1243.6 1110.1 L1242.9 1112.0 L1242.1 1113.7 L1241.3 1115.5 L1240.4 1117.3 L1239.5 1119.0 L1238.6 1120.7 L1237.6 1122.4 L1236.6 1124.1 L1235.5 1125.7 L1234.4 1127.4 L1233.3 1129.0 L1232.1 1130.5 L1230.9 1132.1 L1229.6 1133.6 L1228.4 1135.0 L1227.0 1136.5 L1225.6 1137.9Z"/>
<circle cx="1228.0" cy="1140.5" r="3.50"/><circle cx="1129.0" cy="979.0" r="4.00"/>
<circle cx="1127.0" cy="980.3" r="4.00"/>
<circle cx="893.0" cy="778.4" r="4.00"/>
<path d="M1129.6 977.3 L1100.4 952.0 L1071.1 926.8 L1041.9 901.6 L1012.6 876.3 L983.4 851.1 L954.1 825.8 L924.9 800.6 L895.6 775.4 L890.4 781.4 L919.6 806.7 L948.9 831.9 L978.1 857.1 L1007.4 882.4 L1036.6 907.6 L1065.9 932.9 L1095.1 958.1 L1124.4 983.3Z"/>
<circle cx="1127.0" cy="980.3" r="4.00"/><circle cx="893.0" cy="778.4" r="4.00"/>
<path d="M895.4 771.2 L893.8 769.8 L892.2 768.5 L890.5 767.2 L888.9 766.0 L887.2 764.8 L885.6 763.6 L883.9 762.5 L882.2 761.4 L880.5 760.3 L878.8 759.3 L877.0 758.3 L875.2 757.3 L873.4 756.4 L871.5 755.5 L869.6 754.7 L867.7 753.9 L865.7 753.1 L863.7 752.4 L861.7 751.7 L859.6 751.0 L857.6 750.4 L855.5 749.8 L853.4 749.3 L851.3 748.7 L849.2 748.2 L847.1 747.7 L845.1 747.2 L843.0 746.7 L840.9 746.2 L838.9 745.7 L836.8 745.2 L834.8 744.6 L832.8 744.1 L830.9 743.6 L828.9 743.0 L827.0 742.4 L825.2 741.8 L823.4 741.1 L821.6 740.5 L819.9 739.8 L818.2 739.0 L816.6 738.3 L815.1 737.5 L813.6 736.6 L812.1 735.7 L810.8 734.8 L809.4 733.8 L808.1 732.7 L806.9 731.6 L805.7 730.4 L804.6 729.1 L803.6 727.8 L802.6 726.4 L801.7 725.0 L800.9 723.5 L800.2 722.0 L799.6 720.4 L799.0 718.8 L798.6 717.2 L798.3 715.5 L798.0 713.8 L797.8 712.0 L797.7 710.1 L797.7 708.2 L797.6 706.2 L797.6 704.2 L797.6 702.2 L797.5 700.1 L797.5 698.0 L797.4 696.0 L797.4 693.9 L797.3 691.8 L797.2 689.7 L797.0 687.6 L796.9 685.5 L796.8 683.4 L796.6 681.3 L796.4 679.2 L796.2 677.1 L796.0 675.0 L795.7 672.9 L795.5 670.8 L795.2 668.7 L794.9 666.6 L794.6 664.5 L794.2 662.4 L793.8 660.4 L793.4 658.3 L793.0 656.2 L792.6 654.1 L792.1 652.1 L791.6 650.0 L791.0 648.0 L790.5 646.0 L789.9 643.9 L789.3 641.9 L788.6 639.9 L787.9 637.9 L787.2 636.0 L786.4 634.0 L785.7 632.1 L784.8 630.1 L784.0 628.2 L783.1 626.4 L782.2 624.5 L781.2 622.6 L780.3 620.8 L779.2 619.0 L778.2 617.2 L777.1 615.5 L776.0 613.7 L774.9 612.0 L773.8 610.3 L772.6 608.6 L771.4 606.9 L770.2 605.3 L768.9 603.6 L767.6 602.0 L766.3 600.4 L765.0 598.9 L763.6 597.3 L762.2 595.8 L760.8 594.3 L759.4 592.8 L757.9 591.3 L756.5 589.9 L755.0 588.4 L753.5 587.0 L751.9 585.6 L750.4 584.3 L748.8 582.9 L747.2 581.6 L745.6 580.3 L744.0 579.0 L742.3 577.7 L740.7 576.5 L739.0 575.2 L737.3 574.0 L735.6 572.8 L733.8 571.7 L732.1 570.5 L730.3 569.4 L728.6 568.3 L726.8 567.2 L725.0 566.1 L723.1 565.0 L721.3 564.0 L719.5 563.0 L717.6 562.0 L715.8 561.0 L713.9 560.1 L712.0 559.1 L710.1 558.2 L708.2 557.3 L706.3 556.4 L704.3 555.5 L702.4 554.7 L700.4 553.9 L698.5 553.1 L696.5 552.3 L694.6 551.5 L692.6 550.7 L690.6 550.0 L688.6 549.3 L686.6 548.6 L684.6 547.9 L682.6 547.2 L680.6 546.6 L678.6 545.9 L676.5 545.3 L674.5 544.7 L672.5 544.2 L670.4 543.6 L668.4 543.1 L666.3 542.5 L664.3 542.0 L662.3 541.5 L660.2 541.1 L658.2 540.6 L656.1 540.2 L654.0 539.8 L652.0 539.4 L649.9 539.0 L647.9 538.6 L645.8 538.2 L643.8 537.9 L641.7 537.6 L639.7 537.3 L637.6 537.0 L635.6 536.7 L633.5 536.5 L631.5 536.3 L629.4 536.0 L627.4 535.8 L625.3 535.7 L623.3 535.5 L621.2 535.3 L619.2 535.2 L617.2 535.1 L615.1 535.0 L613.1 534.9 L611.0 534.9 L609.0 534.8 L607.0 534.8 L604.9 534.8 L602.9 534.8 L600.8 534.8 L598.8 534.9 L596.8 534.9 L594.7 535.0 L592.7 535.1 L590.7 535.2 L588.6 535.3 L586.6 535.5 L584.6 535.6 L582.5 535.8 L580.5 536.0 L578.5 536.2 L576.5 536.5 L574.5 536.7 L572.4 537.0 L570.4 537.3 L568.4 537.6 L566.4 537.9 L564.4 538.2 L562.4 538.6 L560.3 539.0 L558.3 539.3 L556.3 539.8 L554.3 540.2 L552.3 540.6 L550.3 541.1 L548.3 541.6 L546.3 542.1 L544.3 542.6 L542.4 543.1 L540.4 543.6 L538.4 544.2 L536.4 544.8 L534.4 545.4 L532.4 546.0 L530.5 546.6 L528.5 547.3 L526.5 548.0 L524.6 548.6 L522.6 549.4 L520.6 550.1 L518.7 550.8 L516.7 551.6 L514.8 552.3 L518.6 562.7 L520.5 562.0 L522.4 561.4 L524.3 560.8 L526.3 560.2 L528.2 559.6 L530.1 559.0 L532.0 558.5 L533.9 557.9 L535.8 557.4 L537.7 556.9 L539.6 556.4 L541.6 555.9 L543.5 555.4 L545.4 554.9 L547.3 554.5 L549.2 554.0 L551.1 553.6 L553.0 553.2 L555.0 552.8 L556.9 552.4 L558.8 552.0 L560.7 551.6 L562.6 551.3 L564.5 550.9 L566.5 550.6 L568.4 550.3 L570.3 550.0 L572.2 549.8 L574.1 549.5 L576.0 549.2 L578.0 549.0 L579.9 548.8 L581.8 548.6 L583.7 548.4 L585.7 548.2 L587.6 548.1 L589.5 547.9 L591.4 547.8 L593.4 547.7 L595.3 547.6 L597.2 547.5 L599.2 547.4 L601.1 547.4 L603.0 547.3 L605.0 547.3 L606.9 547.3 L608.8 547.3 L610.8 547.3 L612.7 547.4 L614.6 547.4 L616.6 547.5 L618.5 547.6 L620.5 547.7 L622.4 547.8 L624.3 548.0 L626.3 548.1 L628.2 548.3 L630.2 548.5 L632.1 548.7 L634.1 548.9 L636.0 549.2 L638.0 549.4 L639.9 549.7 L641.9 550.0 L643.8 550.3 L645.8 550.6 L647.7 551.0 L649.7 551.4 L651.6 551.7 L653.6 552.2 L655.5 552.6 L657.5 553.0 L659.4 553.5 L661.4 553.9 L663.3 554.4 L665.3 554.9 L667.2 555.5 L669.1 556.0 L671.0 556.6 L673.0 557.1 L674.9 557.7 L676.8 558.4 L678.7 559.0 L680.6 559.6 L682.5 560.3 L684.4 561.0 L686.3 561.7 L688.1 562.4 L690.0 563.1 L691.8 563.9 L693.7 564.6 L695.5 565.4 L697.4 566.2 L699.2 567.0 L701.0 567.9 L702.8 568.7 L704.6 569.6 L706.3 570.5 L708.1 571.4 L709.9 572.3 L711.6 573.2 L713.3 574.2 L715.0 575.1 L716.7 576.1 L718.4 577.1 L720.1 578.1 L721.8 579.2 L723.4 580.2 L725.0 581.3 L726.7 582.3 L728.3 583.4 L729.9 584.5 L731.4 585.7 L733.0 586.8 L734.5 588.0 L736.0 589.1 L737.5 590.3 L739.0 591.5 L740.5 592.8 L741.9 594.0 L743.4 595.3 L744.8 596.5 L746.2 597.8 L747.6 599.1 L748.9 600.4 L750.2 601.8 L751.6 603.1 L752.9 604.5 L754.1 605.8 L755.4 607.2 L756.6 608.6 L757.8 610.1 L759.0 611.5 L760.2 613.0 L761.3 614.4 L762.5 615.9 L763.6 617.4 L764.7 619.0 L765.7 620.5 L766.8 622.0 L767.8 623.6 L768.8 625.2 L769.7 626.8 L770.7 628.4 L771.6 630.1 L772.5 631.7 L773.3 633.4 L774.2 635.1 L775.0 636.8 L775.8 638.5 L776.5 640.2 L777.3 642.0 L778.0 643.8 L778.7 645.6 L779.4 647.4 L780.0 649.2 L780.6 651.1 L781.2 653.0 L781.8 654.8 L782.4 656.7 L782.9 658.6 L783.4 660.6 L783.9 662.5 L784.3 664.4 L784.8 666.4 L785.2 668.4 L785.6 670.3 L786.0 672.3 L786.3 674.3 L786.7 676.3 L787.0 678.3 L787.3 680.3 L787.5 682.3 L787.8 684.3 L788.0 686.3 L788.2 688.3 L788.4 690.4 L788.6 692.4 L788.8 694.4 L788.9 696.4 L789.0 698.4 L789.1 700.4 L789.2 702.4 L789.3 704.4 L789.3 706.4 L789.4 708.4 L789.5 710.5 L789.6 712.6 L789.8 714.7 L790.0 716.8 L790.4 718.9 L790.8 721.0 L791.4 723.1 L792.0 725.2 L792.8 727.2 L793.7 729.2 L794.7 731.1 L795.7 733.0 L796.9 734.9 L798.2 736.6 L799.6 738.3 L801.0 740.0 L802.6 741.5 L804.2 743.0 L805.9 744.4 L807.7 745.7 L809.5 746.9 L811.4 748.0 L813.3 749.1 L815.2 750.0 L817.2 751.0 L819.2 751.8 L821.3 752.6 L823.3 753.4 L825.4 754.1 L827.5 754.8 L829.6 755.4 L831.7 756.0 L833.8 756.6 L835.9 757.1 L838.0 757.7 L840.1 758.2 L842.2 758.7 L844.3 759.2 L846.3 759.8 L848.3 760.3 L850.3 760.8 L852.3 761.4 L854.2 761.9 L856.1 762.5 L857.9 763.1 L859.7 763.7 L861.4 764.3 L863.1 765.0 L864.8 765.7 L866.5 766.5 L868.1 767.3 L869.8 768.1 L871.4 768.9 L873.0 769.7 L874.7 770.6 L876.3 771.5 L878.0 772.4 L879.7 773.3 L881.4 774.2 L883.2 775.1 L884.9 776.1 L886.8 777.0 L888.7 777.9 L890.6 778.8Z"/>
<circle cx="893.0" cy="775.0" r="4.50"/><circle cx="516.7" cy="557.5" r="5.50"/>
<circle cx="513.3" cy="559.5" r="5.00"/>
<circle cx="523.3" cy="578.0" r="4.75"/>
<circle cx="503.3" cy="590.2" r="4.75"/>
<circle cx="490.0" cy="573.6" r="4.50"/>
<path d="M508.9 561.9 L510.2 564.2 L511.5 566.5 L512.7 568.8 L514.0 571.1 L515.3 573.4 L516.6 575.7 L517.8 578.0 L518.8 576.5 L518.3 575.5 L515.8 577.0 L513.3 578.5 L510.8 580.0 L508.3 581.6 L505.8 583.1 L503.3 584.6 L503.9 585.5 L505.3 585.2 L503.6 583.1 L501.9 581.1 L500.3 579.0 L498.6 577.0 L496.9 574.9 L495.2 572.8 L493.5 570.8 L486.5 576.4 L488.1 578.5 L489.8 580.6 L491.4 582.7 L493.0 584.8 L494.7 586.9 L496.3 589.0 L498.0 591.1 L502.7 594.9 L508.3 592.7 L510.8 591.2 L513.3 589.7 L515.8 588.2 L518.3 586.6 L520.8 585.1 L523.3 583.6 L527.8 579.5 L526.3 573.4 L525.0 571.1 L523.8 568.8 L522.6 566.4 L521.4 564.1 L520.1 561.8 L518.9 559.4 L517.7 557.1Z"/>
<circle cx="513.3" cy="559.5" r="5.00"/><circle cx="490.0" cy="573.6" r="4.50"/><circle cx="523.3" cy="578.0" r="4.75"/><circle cx="503.3" cy="590.2" r="4.75"/>
<circle cx="490.0" cy="573.6" r="5.00"/>
<circle cx="474.0" cy="585.0" r="5.75"/>
<path d="M487.1 569.5 L485.0 570.9 L483.0 572.2 L480.9 573.6 L478.9 574.9 L476.8 576.3 L474.8 577.6 L472.7 579.0 L470.7 580.3 L477.3 589.7 L479.3 588.2 L481.2 586.7 L483.2 585.2 L485.1 583.7 L487.1 582.2 L489.0 580.7 L491.0 579.2 L492.9 577.7Z"/>
<circle cx="490.0" cy="573.6" r="5.00"/><circle cx="474.0" cy="585.0" r="5.75"/>
<path d="M470.7 580.3 L469.9 580.8 L468.8 581.5 L467.5 582.3 L466.2 583.2 L464.7 584.1 L463.2 585.1 L461.8 586.0 L460.5 586.9 L459.3 587.6 L458.4 588.1 L457.6 588.6 L457.0 589.0 L456.6 589.3 L456.4 589.5 L456.6 589.4 L457.0 589.1 L457.5 589.0 L457.6 589.0 L457.4 589.0 L457.0 589.1 L456.4 589.1 L455.8 589.2 L455.0 589.3 L454.1 589.3 L453.2 589.4 L452.3 589.4 L451.3 589.4 L450.4 589.4 L449.5 589.3 L448.6 589.3 L447.7 589.2 L446.9 589.2 L446.3 589.1 L445.7 589.1 L445.2 589.0 L444.6 588.9 L443.9 588.8 L443.1 588.6 L442.1 588.3 L440.8 587.9 L439.2 587.4 L437.4 586.9 L435.4 586.3 L433.4 585.7 L431.3 585.0 L429.2 584.3 L427.2 583.5 L425.2 582.7 L423.3 581.9 L421.6 581.0 L419.9 580.0 L418.2 579.0 L416.5 577.9 L414.9 576.7 L413.2 575.6 L411.7 574.3 L410.2 573.1 L408.8 571.8 L407.5 570.4 L406.2 569.0 L405.0 567.7 L403.8 566.1 L402.7 564.6 L401.6 562.9 L400.5 561.1 L399.5 559.4 L398.6 557.6 L397.7 555.8 L396.9 554.0 L396.2 552.3 L395.7 550.6 L395.2 548.9 L394.8 547.2 L394.5 545.5 L394.2 543.7 L394.0 541.9 L393.9 540.1 L393.8 538.3 L393.7 536.5 L393.6 534.7 L393.6 533.0 L393.7 531.2 L393.9 529.3 L394.1 527.5 L394.3 525.7 L394.6 524.0 L394.9 522.3 L395.2 520.7 L395.5 519.1 L395.8 517.8 L396.2 516.7 L396.6 515.6 L397.0 514.5 L397.5 513.5 L398.0 512.6 L398.5 511.7 L399.0 510.8 L399.5 510.1 L399.9 509.3 L400.3 508.7 L393.1 505.1 L392.9 505.6 L392.6 506.2 L392.2 507.0 L391.7 507.9 L391.1 509.0 L390.6 510.2 L390.0 511.5 L389.5 512.9 L389.0 514.4 L388.6 516.0 L388.2 517.6 L387.9 519.2 L387.6 521.0 L387.3 522.8 L387.0 524.8 L386.8 526.7 L386.6 528.7 L386.5 530.7 L386.4 532.7 L386.4 534.7 L386.3 536.6 L386.3 538.5 L386.3 540.4 L386.3 542.4 L386.4 544.5 L386.6 546.5 L386.8 548.6 L387.2 550.7 L387.6 552.8 L388.2 554.9 L388.8 557.0 L389.5 559.1 L390.2 561.2 L391.1 563.4 L392.1 565.5 L393.1 567.7 L394.3 569.8 L395.5 571.8 L396.8 573.8 L398.2 575.8 L399.7 577.6 L401.3 579.3 L403.0 580.9 L404.8 582.5 L406.6 584.0 L408.5 585.5 L410.4 586.8 L412.3 588.1 L414.2 589.4 L416.2 590.6 L418.3 591.8 L420.5 592.9 L422.8 594.0 L425.1 594.9 L427.4 595.8 L429.6 596.7 L431.8 597.4 L433.7 598.1 L435.5 598.7 L437.0 599.3 L438.4 599.8 L439.7 600.2 L440.9 600.5 L442.0 600.8 L443.0 601.1 L443.9 601.2 L444.8 601.4 L445.7 601.5 L446.5 601.6 L447.4 601.7 L448.5 601.8 L449.7 601.9 L450.8 602.0 L452.0 602.1 L453.2 602.1 L454.4 602.1 L455.5 602.1 L456.6 602.1 L457.7 602.0 L458.6 601.9 L459.4 601.8 L460.1 601.7 L461.0 601.5 L462.0 601.2 L463.0 600.7 L463.7 600.3 L464.1 599.9 L464.5 599.7 L464.9 599.4 L465.6 598.9 L466.5 598.2 L467.7 597.3 L469.0 596.3 L470.4 595.2 L471.8 594.1 L473.2 593.0 L474.5 592.0 L475.7 591.0 L476.6 590.3 L477.3 589.7Z"/>
<circle cx="474.0" cy="585.0" r="5.75"/><circle cx="396.7" cy="506.9" r="4.00"/><circle cx="460.0" cy="594.9" r="6.50"/><circle cx="459.8" cy="595.0" r="6.50"/><circle cx="459.5" cy="595.2" r="6.50"/><circle cx="459.2" cy="595.3" r="6.50"/><circle cx="458.9" cy="595.3" r="6.50"/>
<circle cx="396.7" cy="506.9" r="4.00"/>
<circle cx="425.6" cy="539.7" r="3.90"/>
<path d="M393.7 509.5 L397.3 513.6 L400.9 517.7 L404.6 521.8 L408.2 525.9 L411.8 530.0 L415.4 534.1 L419.1 538.2 L422.7 542.3 L428.5 537.1 L424.9 533.0 L421.3 528.9 L417.7 524.8 L414.1 520.7 L410.5 516.6 L406.9 512.5 L403.3 508.4 L399.7 504.3Z"/>
<circle cx="396.7" cy="506.9" r="4.00"/><circle cx="425.6" cy="539.7" r="3.90"/>
<path d="M424.5 543.4 L424.9 543.5 L425.3 543.7 L425.9 543.9 L426.5 544.1 L427.3 544.3 L428.2 544.6 L429.1 544.9 L430.2 545.2 L431.3 545.4 L432.4 545.7 L433.6 546.0 L434.9 546.3 L436.4 546.6 L437.9 547.0 L439.5 547.4 L441.2 547.7 L443.0 548.0 L444.9 548.3 L446.8 548.5 L448.7 548.6 L450.7 548.6 L452.6 548.7 L454.7 548.7 L456.8 548.6 L459.0 548.5 L461.2 548.3 L463.4 548.1 L465.6 547.7 L467.8 547.3 L470.0 546.7 L472.1 546.1 L474.2 545.3 L476.2 544.4 L478.2 543.5 L480.2 542.5 L482.1 541.4 L484.0 540.3 L485.8 539.1 L487.5 537.9 L489.1 536.7 L490.7 535.4 L492.1 534.1 L493.5 532.7 L494.9 531.3 L496.1 529.8 L497.3 528.3 L498.4 526.8 L499.5 525.2 L500.4 523.6 L501.3 521.9 L502.2 520.1 L502.9 518.1 L503.5 516.1 L504.0 514.1 L504.4 512.1 L504.8 510.2 L505.1 508.5 L505.4 506.9 L505.7 505.5 L505.9 504.3 L506.1 503.2 L506.3 502.1 L506.5 501.2 L506.5 500.3 L506.5 499.6 L506.5 498.9 L506.5 498.4 L506.5 498.1 L506.6 498.2 L506.7 498.2 L496.7 499.0 L496.8 499.5 L497.0 500.1 L497.2 500.4 L497.3 500.5 L497.3 500.6 L497.4 500.7 L497.5 501.0 L497.6 501.4 L497.6 502.0 L497.5 502.9 L497.3 504.1 L497.2 505.6 L496.9 507.2 L496.7 508.9 L496.4 510.6 L496.1 512.4 L495.7 514.1 L495.3 515.7 L494.8 517.2 L494.3 518.5 L493.6 519.8 L492.8 521.1 L492.0 522.4 L491.1 523.6 L490.1 524.9 L489.1 526.1 L488.0 527.2 L486.8 528.4 L485.6 529.5 L484.3 530.5 L482.9 531.6 L481.4 532.6 L479.8 533.7 L478.2 534.6 L476.5 535.6 L474.8 536.5 L473.0 537.3 L471.3 538.1 L469.5 538.7 L467.8 539.3 L466.1 539.7 L464.3 540.1 L462.4 540.4 L460.5 540.6 L458.5 540.7 L456.5 540.8 L454.6 540.9 L452.7 540.9 L450.8 540.8 L449.1 540.8 L447.4 540.7 L445.8 540.5 L444.3 540.3 L442.7 540.0 L441.1 539.7 L439.6 539.4 L438.2 539.0 L436.8 538.7 L435.4 538.4 L434.2 538.1 L433.1 537.9 L432.1 537.6 L431.2 537.4 L430.4 537.1 L429.6 536.9 L428.9 536.7 L428.3 536.5 L427.7 536.3 L427.2 536.1 L426.7 536.0Z"/>
<circle cx="425.6" cy="539.7" r="3.90"/><circle cx="501.7" cy="498.6" r="5.00"/><circle cx="501.7" cy="498.8" r="4.92"/>
<circle cx="501.7" cy="498.6" r="5.00"/>
<circle cx="476.7" cy="465.8" r="5.00"/>
<path d="M505.7 495.6 L502.6 491.5 L499.4 487.4 L496.3 483.3 L493.2 479.2 L490.1 475.1 L486.9 471.0 L483.8 466.9 L480.7 462.8 L472.7 468.8 L475.8 472.9 L479.0 477.0 L482.1 481.1 L485.2 485.2 L488.3 489.3 L491.5 493.4 L494.6 497.5 L497.7 501.6Z"/>
<circle cx="501.7" cy="498.6" r="5.00"/><circle cx="476.7" cy="465.8" r="5.00"/>
<path d="M478.7 466.2 L479.3 466.0 L480.0 465.6 L480.8 465.2 L481.6 464.8 L482.4 464.4 L483.3 464.0 L484.2 463.6 L485.1 463.3 L486.1 463.0 L487.1 462.8 L488.2 462.7 L489.5 462.7 L490.9 462.6 L492.3 462.6 L493.8 462.7 L495.4 462.8 L497.0 462.8 L498.6 463.0 L500.2 463.1 L501.8 463.3 L503.4 463.5 L504.9 463.7 L506.5 463.9 L508.1 464.1 L509.6 464.4 L511.2 464.7 L512.8 465.1 L514.4 465.5 L516.1 465.9 L517.8 466.4 L519.6 467.0 L521.5 467.7 L523.4 468.5 L525.4 469.3 L527.5 470.2 L529.5 471.1 L531.5 472.0 L533.4 472.9 L535.3 473.8 L537.1 474.6 L538.8 475.5 L540.4 476.3 L542.0 477.2 L543.6 478.1 L545.1 479.0 L546.7 479.9 L548.2 480.8 L549.7 481.7 L551.2 482.5 L552.7 483.3 L554.1 484.1 L555.5 484.7 L556.8 485.4 L558.1 486.0 L559.4 486.6 L560.7 487.2 L561.9 487.7 L563.2 488.2 L564.4 488.7 L565.7 489.1 L567.0 489.6 L568.3 490.0 L569.7 490.3 L571.0 490.6 L572.2 490.9 L573.4 491.1 L574.4 491.3 L575.4 491.5 L576.1 491.6 L576.7 491.8 L578.3 484.4 L577.6 484.3 L576.8 484.1 L575.9 483.9 L574.8 483.8 L573.7 483.5 L572.6 483.3 L571.4 483.0 L570.3 482.7 L569.2 482.4 L568.1 482.1 L567.1 481.7 L566.0 481.2 L564.8 480.8 L563.7 480.3 L562.5 479.8 L561.3 479.2 L560.1 478.6 L558.8 478.0 L557.5 477.3 L556.1 476.7 L554.8 476.0 L553.4 475.2 L552.0 474.4 L550.5 473.5 L548.9 472.6 L547.4 471.6 L545.7 470.7 L544.0 469.7 L542.2 468.8 L540.4 467.9 L538.5 467.0 L536.6 466.1 L534.5 465.2 L532.4 464.3 L530.3 463.4 L528.2 462.5 L526.1 461.7 L524.0 460.9 L522.0 460.2 L520.0 459.6 L518.1 459.0 L516.2 458.5 L514.4 458.1 L512.7 457.7 L510.9 457.3 L509.2 457.0 L507.6 456.8 L505.9 456.5 L504.3 456.3 L502.6 456.1 L501.0 455.9 L499.3 455.7 L497.6 455.6 L495.8 455.4 L494.2 455.3 L492.5 455.3 L490.9 455.2 L489.3 455.2 L487.8 455.3 L486.3 455.4 L484.8 455.5 L483.4 455.7 L482.0 456.0 L480.7 456.3 L479.6 456.6 L478.5 457.0 L477.5 457.3 L476.8 457.5 L476.2 457.7 L475.7 457.8Z"/>
<circle cx="477.2" cy="462.0" r="4.50"/><circle cx="577.5" cy="488.1" r="3.75"/>
<circle cx="577.5" cy="488.1" r="3.75"/>
<circle cx="581.9" cy="468.8" r="3.75"/>
<circle cx="585.5" cy="468.0" r="3.75"/>
<circle cx="592.5" cy="470.5" r="3.75"/>
<circle cx="589.4" cy="490.6" r="3.75"/>
<path d="M581.2 488.9 L581.7 486.5 L582.3 484.1 L582.8 481.7 L583.4 479.3 L583.9 476.8 L584.5 474.4 L585.0 472.0 L585.4 470.1 L583.1 472.3 L583.6 472.2 L584.0 472.1 L584.5 472.0 L584.9 472.0 L585.4 471.9 L585.8 471.8 L584.9 471.7 L585.1 471.8 L586.0 472.2 L586.9 472.5 L587.7 472.8 L588.6 473.1 L589.5 473.4 L590.4 473.7 L588.8 471.1 L588.4 472.4 L588.0 475.0 L587.6 477.5 L587.2 480.0 L586.9 482.5 L586.5 485.0 L586.1 487.5 L585.7 490.0 L593.1 491.2 L593.5 488.7 L593.9 486.1 L594.3 483.6 L594.7 481.1 L595.0 478.6 L595.4 476.1 L595.8 473.6 L596.2 469.9 L592.9 466.7 L592.0 466.3 L591.1 466.0 L590.3 465.7 L589.4 465.4 L588.5 465.1 L587.6 464.8 L586.1 464.3 L584.3 464.4 L583.8 464.5 L583.4 464.6 L582.9 464.7 L582.5 464.8 L582.0 464.9 L581.6 465.0 L578.4 467.4 L577.7 470.3 L577.1 472.8 L576.6 475.2 L576.0 477.6 L575.5 480.0 L574.9 482.4 L574.4 484.8 L573.8 487.3Z"/>
<circle cx="577.5" cy="488.1" r="3.75"/><circle cx="589.4" cy="490.6" r="3.75"/><circle cx="581.9" cy="468.8" r="3.75"/><circle cx="585.5" cy="468.0" r="3.75"/><circle cx="592.5" cy="470.5" r="3.75"/>
<path d="M587.9 494.4 L586.4 493.2 L586.1 489.4 L586.1 489.2 L585.6 490.7 L586.7 494.2 L588.5 495.2 L589.6 495.4 L590.5 495.5 L591.5 495.5 L592.8 495.4 L594.3 495.3 L596.3 495.2 L598.6 495.1 L601.2 494.9 L603.9 494.8 L606.8 494.5 L609.8 494.2 L612.8 493.8 L615.7 493.3 L618.5 492.6 L621.2 491.8 L623.9 491.0 L626.6 490.0 L629.3 488.9 L632.0 487.8 L634.6 486.6 L637.2 485.4 L639.7 484.1 L642.2 482.9 L644.5 481.6 L646.7 480.3 L648.8 479.0 L650.9 477.7 L652.9 476.4 L654.9 475.0 L656.9 473.5 L658.8 472.0 L660.6 470.3 L662.5 468.6 L664.2 466.7 L666.0 464.6 L667.7 462.4 L669.4 460.0 L671.0 457.6 L672.5 455.1 L674.0 452.7 L675.3 450.2 L676.6 447.9 L677.7 445.6 L678.7 443.5 L679.5 441.5 L680.2 439.5 L680.8 437.6 L681.2 435.8 L681.5 434.1 L681.7 432.4 L681.9 430.8 L682.0 429.3 L682.2 427.9 L682.3 426.4 L682.4 424.9 L682.5 423.4 L682.5 421.9 L682.5 420.5 L682.4 419.1 L682.3 417.7 L682.1 416.3 L682.0 415.0 L681.8 413.6 L681.5 412.2 L681.2 410.7 L680.9 409.2 L680.5 407.8 L680.1 406.3 L679.6 404.9 L679.2 403.5 L678.7 402.2 L678.3 400.9 L677.9 399.6 L677.5 398.4 L677.1 397.2 L676.6 396.0 L676.2 394.8 L675.7 393.7 L675.3 392.7 L674.9 391.7 L674.6 390.8 L674.3 390.0 L674.1 389.2 L673.9 388.6 L673.8 388.0 L673.7 387.5 L673.6 387.1 L673.6 386.8 L673.6 386.5 L673.6 386.1 L673.7 385.6 L673.7 385.0 L673.8 384.2 L673.9 383.4 L674.0 382.4 L674.1 381.4 L674.2 380.4 L674.3 379.3 L674.5 378.1 L674.6 376.9 L674.8 375.7 L675.0 374.4 L675.2 373.0 L675.4 371.6 L675.7 370.2 L675.9 368.7 L676.2 367.2 L676.5 365.6 L676.8 363.9 L677.1 362.3 L677.4 360.6 L677.8 359.0 L678.1 357.4 L678.4 355.8 L678.7 354.3 L679.1 352.8 L679.4 351.2 L679.8 349.7 L680.1 348.2 L680.5 346.7 L680.8 345.3 L681.2 343.8 L681.5 342.4 L681.9 341.0 L682.3 339.6 L682.7 338.2 L683.1 336.7 L683.6 335.2 L684.0 333.8 L684.4 332.4 L684.8 331.2 L685.1 330.0 L685.4 329.1 L685.7 328.3 L677.5 326.0 L677.3 326.7 L677.1 327.7 L676.8 328.8 L676.4 330.1 L676.1 331.5 L675.7 333.0 L675.3 334.5 L674.9 336.0 L674.5 337.5 L674.1 339.0 L673.8 340.4 L673.4 341.9 L673.0 343.4 L672.7 344.9 L672.3 346.4 L672.0 347.9 L671.6 349.5 L671.3 351.0 L670.9 352.6 L670.6 354.2 L670.3 355.8 L669.9 357.4 L669.6 359.1 L669.3 360.8 L668.9 362.5 L668.6 364.1 L668.3 365.8 L668.1 367.4 L667.8 368.9 L667.6 370.4 L667.3 371.8 L667.1 373.1 L666.9 374.5 L666.7 375.8 L666.5 377.1 L666.4 378.3 L666.2 379.5 L666.1 380.6 L666.0 381.7 L665.9 382.6 L665.8 383.5 L665.8 384.2 L665.7 384.9 L665.7 385.6 L665.6 386.3 L665.6 387.0 L665.7 387.8 L665.8 388.6 L665.9 389.5 L666.1 390.4 L666.4 391.5 L666.7 392.5 L667.1 393.6 L667.5 394.6 L667.9 395.7 L668.3 396.7 L668.7 397.8 L669.1 398.8 L669.5 399.9 L669.9 401.0 L670.3 402.2 L670.7 403.4 L671.2 404.7 L671.6 406.0 L672.0 407.3 L672.4 408.6 L672.8 409.9 L673.1 411.2 L673.4 412.4 L673.7 413.6 L673.9 414.8 L674.0 416.0 L674.2 417.2 L674.3 418.4 L674.4 419.6 L674.5 420.8 L674.5 422.0 L674.5 423.2 L674.4 424.4 L674.3 425.8 L674.2 427.2 L674.1 428.7 L674.0 430.1 L673.8 431.4 L673.6 432.8 L673.4 434.2 L673.0 435.6 L672.6 437.1 L672.0 438.6 L671.3 440.3 L670.5 442.2 L669.4 444.2 L668.3 446.4 L667.0 448.7 L665.7 451.0 L664.2 453.3 L662.8 455.5 L661.3 457.6 L659.8 459.6 L658.3 461.3 L656.8 462.9 L655.2 464.5 L653.6 465.9 L651.9 467.2 L650.2 468.5 L648.4 469.8 L646.6 471.0 L644.7 472.2 L642.6 473.4 L640.5 474.6 L638.4 475.8 L636.1 477.0 L633.7 478.2 L631.3 479.4 L628.8 480.5 L626.3 481.5 L623.8 482.5 L621.3 483.4 L618.9 484.2 L616.5 484.9 L614.1 485.4 L611.5 485.9 L608.8 486.3 L606.1 486.6 L603.3 486.8 L600.7 487.0 L598.2 487.1 L595.9 487.2 L593.9 487.3 L592.2 487.4 L591.1 487.5 L590.4 487.6 L590.2 487.6 L590.5 487.7 L592.1 488.6 L593.2 491.8 L592.7 493.2 L592.9 492.8 L592.6 488.9 L590.9 487.6Z"/>
<circle cx="589.4" cy="491.0" r="3.75"/><circle cx="681.6" cy="327.1" r="4.25"/><circle cx="589.5" cy="491.0" r="3.77"/><circle cx="589.5" cy="491.1" r="3.80"/><circle cx="589.4" cy="491.2" r="3.83"/><circle cx="589.4" cy="491.3" r="3.85"/><circle cx="589.4" cy="491.4" r="3.88"/><circle cx="589.5" cy="491.4" r="3.90"/><circle cx="589.9" cy="491.5" r="3.92"/>
<circle cx="682.0" cy="327.0" r="4.25"/>
<circle cx="709.7" cy="347.7" r="3.85"/>
<path d="M679.5 330.4 L682.9 333.0 L686.4 335.5 L689.9 338.0 L693.4 340.6 L696.9 343.1 L700.4 345.7 L703.9 348.2 L707.4 350.8 L712.0 344.6 L708.6 342.0 L705.1 339.4 L701.7 336.7 L698.3 334.1 L694.8 331.5 L691.4 328.9 L688.0 326.2 L684.5 323.6Z"/>
<circle cx="682.0" cy="327.0" r="4.25"/><circle cx="709.7" cy="347.7" r="3.85"/>
<path d="M709.0 351.5 L709.4 351.6 L710.0 351.7 L710.7 351.9 L711.6 352.1 L712.5 352.3 L713.6 352.5 L714.8 352.7 L716.0 352.8 L717.3 352.9 L718.6 352.9 L719.9 352.9 L721.3 352.9 L722.7 352.9 L724.2 352.9 L725.8 352.8 L727.5 352.6 L729.1 352.4 L730.8 352.2 L732.6 351.8 L734.2 351.4 L735.9 350.9 L737.7 350.3 L739.4 349.7 L741.2 349.0 L742.9 348.2 L744.6 347.4 L746.3 346.5 L747.9 345.6 L749.4 344.7 L750.8 343.7 L752.1 342.8 L753.3 341.8 L754.5 340.8 L755.5 339.7 L756.5 338.6 L757.4 337.4 L758.2 336.2 L759.0 334.9 L759.7 333.6 L760.4 332.3 L761.0 330.7 L761.6 329.1 L762.0 327.4 L762.4 325.8 L762.8 324.1 L763.0 322.4 L763.3 320.7 L763.4 319.2 L763.6 317.7 L763.6 316.3 L763.7 314.8 L763.6 313.3 L763.4 311.9 L763.2 310.6 L763.0 309.4 L762.7 308.3 L762.5 307.3 L762.3 306.6 L762.2 306.0 L762.1 305.6 L752.9 307.8 L753.1 308.5 L753.4 309.2 L753.6 310.0 L753.9 310.8 L754.2 311.7 L754.5 312.5 L754.7 313.4 L754.9 314.3 L755.0 315.2 L755.1 316.0 L755.0 317.1 L754.9 318.4 L754.8 319.8 L754.6 321.2 L754.4 322.6 L754.2 324.1 L753.9 325.4 L753.6 326.7 L753.2 327.9 L752.8 328.9 L752.3 329.9 L751.9 330.9 L751.3 331.8 L750.8 332.6 L750.2 333.4 L749.5 334.2 L748.8 335.0 L748.0 335.7 L747.1 336.5 L746.2 337.3 L745.1 338.0 L743.9 338.8 L742.5 339.6 L741.1 340.3 L739.6 341.1 L738.1 341.8 L736.5 342.4 L735.0 343.0 L733.5 343.6 L732.2 344.0 L730.8 344.3 L729.5 344.6 L728.1 344.8 L726.7 345.0 L725.3 345.1 L723.9 345.2 L722.5 345.2 L721.2 345.2 L719.9 345.2 L718.8 345.3 L717.7 345.2 L716.8 345.1 L715.9 345.0 L714.9 344.9 L714.1 344.7 L713.2 344.5 L712.4 344.4 L711.7 344.2 L711.0 344.0 L710.4 343.9Z"/>
<circle cx="709.7" cy="347.7" r="3.85"/><circle cx="757.5" cy="306.7" r="4.75"/>
<circle cx="757.5" cy="306.7" r="5.00"/>
<circle cx="733.6" cy="286.4" r="5.00"/>
<circle cx="734.5" cy="281.4" r="4.50"/>
<path d="M760.7 302.9 L757.7 300.4 L754.8 297.8 L751.8 295.3 L748.8 292.7 L745.8 290.2 L742.8 287.7 L739.8 285.1 L737.3 283.0 L738.6 286.6 L738.6 286.0 L738.7 285.4 L738.7 284.7 L738.8 284.1 L738.8 283.5 L738.9 282.8 L738.9 282.2 L730.1 280.6 L729.9 281.2 L729.7 281.8 L729.5 282.4 L729.4 283.1 L729.2 283.7 L729.0 284.3 L728.9 284.9 L729.9 289.8 L733.4 292.7 L736.3 295.3 L739.3 297.8 L742.3 300.4 L745.3 302.9 L748.3 305.4 L751.3 308.0 L754.3 310.5Z"/>
<circle cx="757.5" cy="306.7" r="5.00"/><circle cx="734.5" cy="281.4" r="4.50"/><circle cx="733.6" cy="286.4" r="5.00"/>
<path d="M828.7 708.5 L827.7 707.8 L827.0 707.4 L826.6 707.1 L826.4 707.0 L826.2 706.8 L825.9 706.5 L825.5 706.1 L825.2 705.8 L825.0 705.6 L824.8 705.3 L824.6 705.1 L824.5 704.9 L824.4 704.7 L824.3 704.5 L824.3 704.4 L824.3 704.3 L824.2 704.2 L824.2 704.0 L824.2 703.9 L824.2 703.8 L824.2 703.7 L824.3 703.5 L824.3 703.4 L824.4 703.2 L824.5 703.0 L824.6 702.7 L824.7 702.4 L824.9 702.1 L825.1 701.8 L825.4 701.4 L825.7 701.0 L825.9 700.7 L826.0 700.7 L826.2 700.4 L826.9 699.8 L827.9 698.9 L829.5 697.7 L831.5 696.2 L833.7 694.5 L836.1 692.7 L838.5 690.8 L840.8 689.1 L842.9 687.3 L844.9 685.6 L847.0 683.8 L849.1 682.0 L851.1 680.3 L853.2 678.5 L855.2 676.7 L857.3 675.0 L859.4 673.2 L861.4 671.4 L863.5 669.6 L865.5 667.9 L867.6 666.1 L869.7 664.3 L871.7 662.6 L873.8 660.8 L875.8 659.0 L877.9 657.3 L880.0 655.5 L882.0 653.7 L884.1 652.0 L886.1 650.2 L888.2 648.4 L890.3 646.7 L892.4 644.8 L894.6 642.8 L896.8 640.8 L898.9 638.9 L900.8 637.3 L902.3 636.0 L903.5 635.0 L904.3 634.4 L904.8 634.0 L905.1 633.8 L905.5 633.5 L906.1 633.2 L906.7 632.9 L907.2 632.6 L907.7 632.4 L908.2 632.2 L908.7 632.1 L909.1 632.0 L909.5 631.9 L910.0 631.8 L910.3 631.8 L910.7 631.7 L911.1 631.7 L911.5 631.8 L911.8 631.8 L912.2 631.9 L912.6 632.0 L912.9 632.1 L913.3 632.2 L913.7 632.4 L914.1 632.6 L914.6 632.8 L915.0 633.1 L915.5 633.4 L915.9 633.8 L916.5 634.3 L917.1 634.7 L917.4 635.0 L917.4 634.9 L917.6 635.2 L918.4 636.1 L919.6 637.6 L921.7 639.8 L924.2 642.6 L927.0 645.8 L929.9 649.1 L932.6 652.4 L935.0 655.4 L937.0 658.4 L938.9 661.4 L940.7 664.5 L942.3 667.5 L943.9 670.4 L945.2 673.1 L946.4 675.8 L947.5 678.6 L948.4 681.3 L949.2 683.9 L950.0 686.2 L950.6 688.0 L950.9 689.1 L951.0 689.6 L951.0 689.0 L951.5 686.8 L951.1 687.7 L950.9 688.8 L950.8 689.1 L950.8 689.1 L950.9 689.0 L950.9 688.8 L951.0 688.6 L951.2 688.4 L951.3 688.2 L951.5 688.1 L951.6 688.0 L951.7 687.9 L951.8 687.9 L951.5 688.0 L950.5 688.5 L950.0 688.9 L951.7 688.1 L952.2 688.0 L951.8 688.0 L950.7 688.0 L948.8 687.9 L946.1 687.9 L943.0 687.7 L939.9 687.6 L937.0 687.6 L934.6 687.7 L933.0 687.7 L931.7 687.8 L930.4 688.0 L929.1 688.4 L928.0 689.0 L926.8 689.7 L925.6 690.7 L924.4 691.8 L923.2 693.0 L922.1 694.3 L921.0 695.5 L919.8 696.7 L918.4 698.2 L917.0 699.7 L915.5 701.3 L914.0 702.9 L912.4 704.4 L910.8 705.7 L908.9 707.1 L906.6 708.5 L904.2 710.0 L901.7 711.4 L899.4 712.9 L897.5 714.4 L896.1 715.9 L895.1 717.5 L894.5 719.2 L894.3 720.7 L894.3 721.7 L894.4 722.9 L894.5 724.6 L894.8 726.5 L895.2 728.2 L895.5 729.8 L895.7 731.1 L895.8 732.1 L895.7 733.0 L895.5 733.9 L895.3 734.7 L895.0 735.3 L894.8 735.8 L894.3 736.4 L893.5 737.4 L893.2 737.9 L893.8 737.5 L894.4 737.3 L893.8 737.3 L891.8 736.9 L888.3 736.1 L883.7 734.8 L878.5 733.1 L872.9 731.3 L867.6 729.5 L862.9 727.7 L858.6 725.9 L854.4 724.0 L850.4 722.0 L846.6 720.0 L843.1 718.1 L840.0 716.5 L837.4 714.9 L835.1 713.4 L833.2 712.0 L831.6 710.8 L830.1 709.6 L828.8 708.5 L827.7 707.8 L827.0 707.4 L826.6 707.1 L826.4 707.0 L826.2 706.8 L825.9 706.5 L825.6 706.2 L825.3 705.9 L825.0 705.5 L824.7 705.1 L824.4 704.7 L824.1 704.3 L816.2 710.4 L816.4 710.6 L816.7 711.0 L817.1 711.6 L817.7 712.3 L818.3 713.0 L819.0 713.7 L819.5 714.2 L820.0 714.6 L820.6 715.1 L821.4 715.7 L822.2 716.2 L823.3 716.9 L824.8 717.7 L826.5 718.6 L828.5 719.7 L830.7 720.8 L833.3 722.1 L836.2 723.5 L839.4 725.2 L843.0 727.0 L847.0 728.9 L851.2 730.9 L855.6 732.9 L860.1 734.7 L865.1 736.5 L870.5 738.4 L876.2 740.3 L881.6 742.0 L886.4 743.3 L890.2 744.3 L893.1 744.7 L895.5 744.7 L897.8 743.8 L899.4 742.2 L899.8 741.5 L900.1 741.0 L900.9 740.0 L901.8 738.6 L902.4 737.1 L902.8 735.5 L903.1 734.0 L903.2 732.2 L903.2 730.3 L902.9 728.4 L902.5 726.6 L902.1 725.0 L901.9 723.7 L901.8 722.7 L901.8 721.6 L901.8 720.9 L901.8 720.7 L901.8 720.8 L901.9 720.6 L902.5 720.0 L903.7 719.0 L905.6 717.8 L908.0 716.4 L910.5 714.9 L913.1 713.3 L915.4 711.7 L917.4 709.9 L919.2 708.2 L920.9 706.5 L922.5 704.8 L923.9 703.3 L925.2 702.0 L926.5 700.6 L927.7 699.3 L928.7 698.1 L929.7 697.1 L930.4 696.4 L931.2 695.9 L931.8 695.5 L932.1 695.3 L932.1 695.3 L932.4 695.2 L933.3 695.2 L934.7 695.1 L936.7 695.2 L939.5 695.5 L942.5 695.7 L945.6 696.0 L948.3 696.3 L950.3 696.4 L951.6 696.5 L952.5 696.5 L953.6 696.3 L955.5 695.4 L955.1 695.7 L954.5 695.9 L954.9 695.8 L955.5 695.5 L956.2 695.2 L956.8 694.7 L957.4 694.2 L957.9 693.6 L958.4 692.9 L958.7 692.2 L959.0 691.5 L959.2 690.8 L959.3 690.1 L959.3 689.7 L959.1 690.4 L958.8 691.2 L959.5 688.8 L959.3 687.6 L959.1 686.8 L958.7 685.6 L958.3 683.8 L957.8 681.5 L957.1 678.7 L956.2 675.7 L955.2 672.5 L954.0 669.4 L952.6 666.2 L951.1 663.0 L949.5 659.7 L947.7 656.3 L945.7 652.9 L943.6 649.6 L941.3 646.0 L938.7 642.2 L936.0 638.5 L933.3 635.1 L931.0 632.0 L929.3 629.7 L928.0 628.1 L927.0 626.9 L926.2 626.1 L925.4 625.4 L924.9 625.0 L924.4 624.6 L923.6 623.9 L922.7 623.3 L921.8 622.6 L920.9 622.1 L919.9 621.5 L918.9 621.0 L917.9 620.6 L916.9 620.2 L915.9 619.9 L914.8 619.7 L913.7 619.5 L912.6 619.3 L911.6 619.3 L910.5 619.2 L909.4 619.3 L908.3 619.4 L907.2 619.6 L906.1 619.8 L905.1 620.1 L904.0 620.5 L903.0 620.9 L902.0 621.3 L901.0 621.8 L900.0 622.3 L899.2 622.8 L898.4 623.2 L897.6 623.8 L896.7 624.5 L895.6 625.3 L894.3 626.3 L892.7 627.7 L890.7 629.4 L888.5 631.3 L886.2 633.2 L884.0 635.1 L881.8 637.0 L879.8 638.8 L877.8 640.5 L875.7 642.3 L873.7 644.1 L871.6 645.9 L869.6 647.7 L867.6 649.5 L865.5 651.3 L863.5 653.1 L861.4 654.9 L859.4 656.7 L857.3 658.4 L855.3 660.2 L853.3 662.0 L851.2 663.8 L849.2 665.6 L847.1 667.4 L845.1 669.2 L843.1 671.0 L841.0 672.8 L839.0 674.5 L836.9 676.3 L834.9 678.1 L832.9 679.9 L830.8 681.9 L828.7 684.0 L826.5 686.1 L824.4 688.1 L822.6 689.9 L821.2 691.4 L820.1 692.5 L819.3 693.2 L818.7 693.9 L818.1 694.5 L817.8 694.9 L817.4 695.4 L816.9 696.0 L816.5 696.8 L816.0 697.5 L815.6 698.2 L815.3 699.0 L815.0 699.8 L814.7 700.6 L814.5 701.5 L814.3 702.3 L814.2 703.2 L814.2 704.0 L814.3 704.9 L814.4 705.8 L814.5 706.6 L814.8 707.5 L815.1 708.3 L815.4 709.1 L815.8 709.8 L816.3 710.5 L816.8 711.2 L817.3 711.9 L817.8 712.6 L818.4 713.2 L819.0 713.7 L819.5 714.2 L820.0 714.6 L820.6 715.1 L821.4 715.7 L822.2 716.2 L823.4 717.0Z"/>
<circle cx="826.0" cy="712.7" r="5.00"/><circle cx="820.2" cy="707.3" r="5.00"/><circle cx="819.3" cy="705.0" r="5.00"/><circle cx="819.2" cy="704.5" r="5.00"/><circle cx="819.2" cy="704.0" r="5.00"/><circle cx="921.4" cy="630.2" r="6.25"/><circle cx="921.8" cy="630.5" r="6.25"/><circle cx="955.2" cy="688.6" r="4.25"/><circle cx="955.2" cy="688.9" r="4.25"/><circle cx="955.2" cy="689.0" r="4.25"/><circle cx="955.1" cy="689.1" r="4.25"/><circle cx="955.1" cy="689.3" r="4.25"/><circle cx="955.1" cy="689.6" r="4.25"/><circle cx="955.0" cy="689.9" r="4.25"/><circle cx="954.9" cy="690.2" r="4.25"/><circle cx="954.8" cy="690.5" r="4.25"/><circle cx="954.7" cy="690.8" r="4.25"/><circle cx="954.5" cy="691.0" r="4.25"/><circle cx="954.4" cy="691.2" r="4.25"/><circle cx="954.1" cy="691.4" r="4.25"/><circle cx="953.9" cy="691.6" r="4.25"/><circle cx="953.6" cy="691.7" r="4.25"/><circle cx="953.3" cy="691.9" r="4.25"/><circle cx="953.0" cy="692.0" r="4.25"/><circle cx="952.8" cy="692.1" r="4.25"/><circle cx="952.7" cy="692.1" r="4.25"/><circle cx="952.7" cy="692.2" r="4.25"/><circle cx="952.4" cy="692.2" r="4.25"/><circle cx="931.2" cy="691.6" r="3.75"/><circle cx="930.6" cy="691.9" r="3.75"/><circle cx="898.4" cy="719.1" r="3.75"/><circle cx="898.1" cy="719.9" r="3.75"/><circle cx="896.3" cy="740.1" r="3.75"/><circle cx="895.8" cy="740.6" r="3.75"/><circle cx="894.9" cy="741.0" r="3.75"/>
</g>
<g fill="none" stroke="#000">
<line x1="987.0" y1="685.0" x2="892.5" y2="767.0" stroke-width="7.00" stroke-linecap="round"/>
<line x1="987.8" y1="692.1" x2="1219.4" y2="890.8" stroke-width="3.00" stroke-linecap="round"/>
<line x1="900.5" y1="767.8" x2="1130.4" y2="963.8" stroke-width="2.60" stroke-linecap="round"/>
<line x1="1217.5" y1="890.0" x2="1130.4" y2="963.3" stroke-width="2.50" stroke-linecap="round"/>
<line x1="1222.0" y1="895.0" x2="1134.2" y2="971.7" stroke-width="2.50" stroke-linecap="round"/>
<line x1="571.2" y1="361.2" x2="902.9" y2="61.9" stroke-width="2.60" stroke-linecap="round"/>
<line x1="633.8" y1="283.8" x2="673.8" y2="317.1" stroke-width="2.60" stroke-linecap="round"/>
<line x1="681.7" y1="241.0" x2="722.3" y2="274.4" stroke-width="2.60" stroke-linecap="round"/>
<line x1="152.5" y1="611.3" x2="543.8" y2="382.5" stroke-width="2.60" stroke-linecap="round"/>
<line x1="369.2" y1="466.7" x2="391.7" y2="495.0" stroke-width="2.60" stroke-linecap="round"/>
<line x1="444.7" y1="422.3" x2="467.0" y2="451.4" stroke-width="2.60" stroke-linecap="round"/>
<line x1="1422.5" y1="1142.5" x2="1774.7" y2="853.1" stroke-width="2.60" stroke-linecap="round"/>
<line x1="1536.6" y1="1031.2" x2="1558.1" y2="1051.0" stroke-width="2.60" stroke-linecap="round"/>
<line x1="1489.7" y1="1069.7" x2="1512.2" y2="1089.4" stroke-width="2.60" stroke-linecap="round"/>
<line x1="1043.3" y1="1394.6" x2="1400.6" y2="1156.0" stroke-width="2.60" stroke-linecap="round"/>
<line x1="1250.6" y1="1215.4" x2="1282.9" y2="1252.9" stroke-width="2.60" stroke-linecap="round"/>
<line x1="1292.3" y1="1188.3" x2="1325.6" y2="1224.8" stroke-width="2.60" stroke-linecap="round"/>
<polyline points="281.5,339.7 516.0,339.7 637.1,461.3" fill="none" stroke-width="2.60" stroke-linejoin="miter" stroke-linecap="round"/>
<polyline points="1125.1,453.5 890.5,453.5 784.8,534.1" fill="none" stroke-width="2.60" stroke-linejoin="miter" stroke-linecap="round"/>
<polyline points="357.4,729.1 591.5,729.1 670.3,566.1" fill="none" stroke-width="2.60" stroke-linejoin="miter" stroke-linecap="round"/>
<polyline points="1675.6,810.7 1454.2,810.7 1291.6,973.9" fill="none" stroke-width="2.60" stroke-linejoin="miter" stroke-linecap="round"/>
<polyline points="826.1,1130.5 1060.4,1130.5 1220.4,1038.0" fill="none" stroke-width="2.60" stroke-linejoin="miter" stroke-linecap="round"/>
<polyline points="1711.9,1198.4 1476.2,1198.4 1330.4,1088.6" fill="none" stroke-width="2.60" stroke-linejoin="miter" stroke-linecap="round"/>
</g>
<g fill="#000" stroke="none">
<path d="M645.8 294.2 L612.3 337.7 L599.0 322.9 Z"/>
<path d="M693.8 250.4 L727.2 206.8 L740.6 221.7 Z"/>
<path d="M378.3 478.3 L336.8 514.3 L326.7 497.1 Z"/>
<path d="M453.5 434.5 L495.3 398.9 L505.3 416.2 Z"/>
<path d="M1547.5 1040.6 L1582.8 998.5 L1595.5 1013.9 Z"/>
<path d="M1500.0 1079.0 L1464.6 1121.0 L1451.9 1105.5 Z"/>
<path d="M1273.5 1241.5 L1234.1 1279.7 L1223.0 1263.1 Z"/>
<path d="M1315.2 1213.3 L1354.5 1174.9 L1365.6 1191.5 Z"/>
<path d="M651.2 475.5 L605.9 444.4 L620.3 430.0 Z"/>
<path d="M768.9 546.2 L805.7 505.3 L818.0 521.6 Z"/>
<path d="M679.0 548.1 L664.7 601.1 L646.3 592.3 Z"/>
<path d="M1277.5 988.1 L1308.4 942.6 L1322.8 957.0 Z"/>
<path d="M1237.8 1028.0 L1196.1 1063.8 L1185.9 1046.2 Z"/>
<path d="M1314.5 1076.6 L1363.7 1101.0 L1351.5 1117.2 Z"/>
</g>
<g fill="none" stroke="#000" stroke-width="3.8" stroke-linecap="butt">
<g transform="translate(693.75 250.40) rotate(-42.03) translate(95.90 -16.60)"><g transform="translate(0.0 0)"><path d="M-9.5 -35 C-11.5 -38.2 -14.5 -39.1 -17.5 -39.1 C-23 -39.1 -27.1 -35.5 -27.1 -30.5 C-27.1 -24.5 -22 -22.5 -17 -21.2 C-11 -19.5 -7.5 -16.5 -7.5 -11 C-7.5 -5.5 -12 -1.9 -17.5 -1.9 C-22.5 -1.9 -26.5 -4.5 -28 -8"/></g><g transform="translate(0.0 0)"><path d="M1.9 -40 L10.3 -4.8 L23 -35.3 L35.4 -4.8 L43.7 -40" stroke-linejoin="miter" stroke-miterlimit="12"/></g><g transform="translate(67.0 0)"><path d="M-8.5 -36.5 L0 -38.6 L0 0" stroke-linejoin="miter" stroke-miterlimit="3"/></g><g transform="translate(84 0)"><path d="M3.4 -32.4 A9.8 8.6 0 1 1 13 -22.9 L10.5 -22.9 M13 -22.9 A11.8 10.5 0 1 1 1.8 -12"/></g></g>
<g transform="translate(378.30 478.30) rotate(-30.50) translate(-225.60 -15.30)"><g transform="translate(0.0 0)"><path d="M-9.5 -35 C-11.5 -38.2 -14.5 -39.1 -17.5 -39.1 C-23 -39.1 -27.1 -35.5 -27.1 -30.5 C-27.1 -24.5 -22 -22.5 -17 -21.2 C-11 -19.5 -7.5 -16.5 -7.5 -11 C-7.5 -5.5 -12 -1.9 -17.5 -1.9 C-22.5 -1.9 -26.5 -4.5 -28 -8"/></g><g transform="translate(0.0 0)"><path d="M1.9 -40 L10.3 -4.8 L23 -35.3 L35.4 -4.8 L43.7 -40" stroke-linejoin="miter" stroke-miterlimit="12"/></g><g transform="translate(67.0 0)"><path d="M-8.5 -36.5 L0 -38.6 L0 0" stroke-linejoin="miter" stroke-miterlimit="3"/></g><g transform="translate(84 0)"><path d="M0 -39 L24 -39 L2.6 0" stroke-linejoin="miter" stroke-miterlimit="10"/></g></g>
<g transform="translate(1547.50 1040.60) rotate(-39.50) translate(108.80 -16.90)"><g transform="translate(0.0 0)"><path d="M-9.5 -35 C-11.5 -38.2 -14.5 -39.1 -17.5 -39.1 C-23 -39.1 -27.1 -35.5 -27.1 -30.5 C-27.1 -24.5 -22 -22.5 -17 -21.2 C-11 -19.5 -7.5 -16.5 -7.5 -11 C-7.5 -5.5 -12 -1.9 -17.5 -1.9 C-22.5 -1.9 -26.5 -4.5 -28 -8"/></g><g transform="translate(0.0 0)"><path d="M1.9 -40 L10.3 -4.8 L23 -35.3 L35.4 -4.8 L43.7 -40" stroke-linejoin="miter" stroke-miterlimit="12"/></g><g transform="translate(67.0 0)"><path d="M-8.5 -36.5 L0 -38.6 L0 0" stroke-linejoin="miter" stroke-miterlimit="3"/></g><g transform="translate(84 0)"><path d="M2.3 -27.9 A11.25 9.9 0 1 1 21.6 -20.8 L1.6 -1.9 L26.8 -1.9"/></g></g>
<g transform="translate(1273.50 1241.50) rotate(-33.80) translate(-240.90 -16.60)"><g transform="translate(0.0 0)"><path d="M-9.5 -35 C-11.5 -38.2 -14.5 -39.1 -17.5 -39.1 C-23 -39.1 -27.1 -35.5 -27.1 -30.5 C-27.1 -24.5 -22 -22.5 -17 -21.2 C-11 -19.5 -7.5 -16.5 -7.5 -11 C-7.5 -5.5 -12 -1.9 -17.5 -1.9 C-22.5 -1.9 -26.5 -4.5 -28 -8"/></g><g transform="translate(0.0 0)"><path d="M1.9 -40 L10.3 -4.8 L23 -35.3 L35.4 -4.8 L43.7 -40" stroke-linejoin="miter" stroke-miterlimit="12"/></g><g transform="translate(67.0 0)"><path d="M-8.5 -36.5 L0 -38.6 L0 0" stroke-linejoin="miter" stroke-miterlimit="3"/></g><g transform="translate(84 0)"><ellipse cx="13.9" cy="-20.9" rx="12" ry="19"/></g></g>
<circle cx="356.7" cy="301.1" r="18" stroke-width="2.3"/><line x1="346.2" y1="327.5" x2="367.5" y2="275.1" stroke-width="2.4"/><g transform="translate(389.0 323.8)"><path d="M3.4 -32.4 A9.8 8.6 0 1 1 13 -22.9 L10.5 -22.9 M13 -22.9 A11.8 10.5 0 1 1 1.8 -12"/></g><g transform="translate(419.8 323.8)"><ellipse cx="13.9" cy="-20.9" rx="12" ry="19"/></g>
<circle cx="991.7" cy="414.0" r="18" stroke-width="2.3"/><line x1="981.2" y1="440.4" x2="1002.5" y2="388.0" stroke-width="2.4"/><g transform="translate(1024.9 437.8)"><circle cx="12.1" cy="-12" r="10.2"/><path d="M18.5 -40.8 L3.2 -16.8"/></g><g transform="translate(1053.6 437.8)"><ellipse cx="13.9" cy="-20.9" rx="12" ry="19"/></g>
<circle cx="437.1" cy="686.7" r="18" stroke-width="2.3"/><line x1="426.6" y1="713.1" x2="447.9" y2="660.7" stroke-width="2.4"/><g transform="translate(467.1 712.4)"><path d="M0 -39 L24 -39 L2.6 0" stroke-linejoin="miter" stroke-miterlimit="10"/></g><g transform="translate(495.6 712.4)"><ellipse cx="13.9" cy="-20.9" rx="12" ry="19"/></g>
<circle cx="1540.2" cy="772.8" r="18" stroke-width="2.3"/><line x1="1529.7" y1="799.2" x2="1551.0" y2="746.8" stroke-width="2.4"/><g transform="translate(1574.1 794.8)"><path d="M25.5 -38.8 L8.2 -38.8 L5.9 -21.6 M4.6 -20.6 A11.6 11.3 0 1 1 1.9 -10.7"/></g><g transform="translate(1604.7 794.8)"><ellipse cx="13.9" cy="-20.9" rx="12" ry="19"/></g>
<circle cx="901.0" cy="1088.1" r="18" stroke-width="2.3"/><line x1="890.5" y1="1114.5" x2="911.8" y2="1062.1" stroke-width="2.4"/><g transform="translate(933.7 1113.8)"><path d="M20.4 0 L20.4 -40.6 L1.2 -10.2 L27.8 -10.2" stroke-linejoin="miter" stroke-miterlimit="10"/></g><g transform="translate(964.2 1113.8)"><ellipse cx="13.9" cy="-20.9" rx="12" ry="19"/></g>
<circle cx="1575.5" cy="1159.6" r="18" stroke-width="2.3"/><line x1="1565.0" y1="1186.0" x2="1586.3" y2="1133.6" stroke-width="2.4"/><g transform="translate(1610.1 1181.5)"><path d="M2.3 -27.9 A11.25 9.9 0 1 1 21.6 -20.8 L1.6 -1.9 L26.8 -1.9"/></g><g transform="translate(1641.2 1181.5)"><path d="M25.5 -38.8 L8.2 -38.8 L5.9 -21.6 M4.6 -20.6 A11.6 11.3 0 1 1 1.9 -10.7"/></g>
</g>
</svg>
</body></html>
